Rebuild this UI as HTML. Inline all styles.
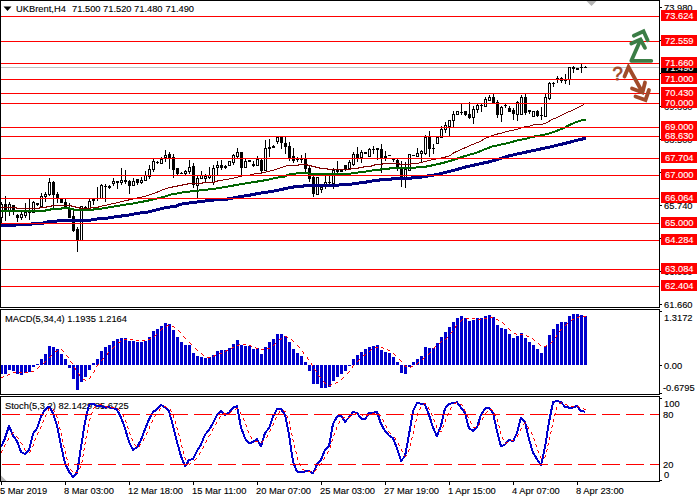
<!DOCTYPE html>
<html><head><meta charset="utf-8"><title>UKBrent,H4</title>
<style>html,body{margin:0;padding:0;background:#fff;overflow:hidden}svg{display:block}</style>
</head><body>
<svg width="700" height="500" viewBox="0 0 700 500">
<rect x="0" y="0" width="700" height="500" fill="#fff"/>
<rect x="1" y="67" width="658" height="1" fill="#c0c0c0"/>
<g shape-rendering="crispEdges">
<rect x="1" y="202" width="1" height="21" fill="#000"/>
<rect x="0" y="204" width="3" height="14" fill="#000"/>
<rect x="1" y="205" width="1" height="12" fill="#fff"/>
<rect x="5" y="196" width="1" height="25" fill="#000"/>
<rect x="4" y="204" width="3" height="7" fill="#000"/>
<rect x="9" y="202" width="1" height="14" fill="#000"/>
<rect x="8" y="204" width="3" height="7" fill="#000"/>
<rect x="9" y="205" width="1" height="5" fill="#fff"/>
<rect x="13" y="205" width="1" height="10" fill="#000"/>
<rect x="12" y="205" width="3" height="5" fill="#000"/>
<rect x="17" y="214" width="1" height="8" fill="#000"/>
<rect x="16" y="215" width="3" height="3" fill="#000"/>
<rect x="21" y="212" width="1" height="8" fill="#000"/>
<rect x="20" y="214" width="3" height="4" fill="#000"/>
<rect x="21" y="215" width="1" height="2" fill="#fff"/>
<rect x="25" y="203" width="1" height="15" fill="#000"/>
<rect x="24" y="212" width="3" height="4" fill="#000"/>
<rect x="25" y="213" width="1" height="2" fill="#fff"/>
<rect x="29" y="199" width="1" height="21" fill="#000"/>
<rect x="28" y="211" width="3" height="2" fill="#000"/>
<rect x="33" y="201" width="1" height="12" fill="#000"/>
<rect x="32" y="202" width="3" height="11" fill="#000"/>
<rect x="33" y="203" width="1" height="9" fill="#fff"/>
<rect x="37" y="203" width="1" height="3" fill="#000"/>
<rect x="36" y="203" width="3" height="2" fill="#000"/>
<rect x="41" y="193" width="1" height="15" fill="#000"/>
<rect x="40" y="196" width="3" height="11" fill="#000"/>
<rect x="41" y="197" width="1" height="9" fill="#fff"/>
<rect x="45" y="192" width="1" height="10" fill="#000"/>
<rect x="44" y="194" width="3" height="3" fill="#000"/>
<rect x="45" y="195" width="1" height="1" fill="#fff"/>
<rect x="49" y="178" width="1" height="18" fill="#000"/>
<rect x="48" y="182" width="3" height="13" fill="#000"/>
<rect x="49" y="183" width="1" height="11" fill="#fff"/>
<rect x="53" y="181" width="1" height="28" fill="#000"/>
<rect x="52" y="182" width="3" height="13" fill="#000"/>
<rect x="57" y="192" width="1" height="11" fill="#000"/>
<rect x="56" y="194" width="3" height="5" fill="#000"/>
<rect x="61" y="199" width="1" height="4" fill="#000"/>
<rect x="60" y="199" width="3" height="4" fill="#000"/>
<rect x="65" y="199" width="1" height="8" fill="#000"/>
<rect x="64" y="202" width="3" height="5" fill="#000"/>
<rect x="69" y="203" width="1" height="15" fill="#000"/>
<rect x="68" y="209" width="3" height="9" fill="#000"/>
<rect x="73" y="211" width="1" height="21" fill="#000"/>
<rect x="72" y="216" width="3" height="15" fill="#000"/>
<rect x="77" y="227" width="1" height="25" fill="#000"/>
<rect x="76" y="229" width="3" height="12" fill="#000"/>
<rect x="81" y="206" width="1" height="35" fill="#000"/>
<rect x="80" y="206" width="3" height="35" fill="#000"/>
<rect x="81" y="207" width="1" height="33" fill="#fff"/>
<rect x="85" y="206" width="1" height="3" fill="#000"/>
<rect x="84" y="207" width="3" height="2" fill="#000"/>
<rect x="89" y="199" width="1" height="10" fill="#000"/>
<rect x="88" y="201" width="3" height="8" fill="#000"/>
<rect x="89" y="202" width="1" height="6" fill="#fff"/>
<rect x="93" y="199" width="1" height="6" fill="#000"/>
<rect x="92" y="199" width="3" height="2" fill="#000"/>
<rect x="97" y="187" width="1" height="14" fill="#000"/>
<rect x="96" y="198" width="3" height="1" fill="#000"/>
<rect x="101" y="184" width="1" height="15" fill="#000"/>
<rect x="100" y="185" width="3" height="14" fill="#000"/>
<rect x="101" y="186" width="1" height="12" fill="#fff"/>
<rect x="105" y="184" width="1" height="18" fill="#000"/>
<rect x="104" y="186" width="3" height="1" fill="#000"/>
<rect x="109" y="185" width="1" height="4" fill="#000"/>
<rect x="108" y="186" width="3" height="2" fill="#000"/>
<rect x="113" y="178" width="1" height="8" fill="#000"/>
<rect x="112" y="181" width="3" height="3" fill="#000"/>
<rect x="113" y="182" width="1" height="1" fill="#fff"/>
<rect x="117" y="181" width="1" height="8" fill="#000"/>
<rect x="116" y="181" width="3" height="2" fill="#000"/>
<rect x="121" y="168" width="1" height="17" fill="#000"/>
<rect x="120" y="180" width="3" height="3" fill="#000"/>
<rect x="121" y="181" width="1" height="1" fill="#fff"/>
<rect x="125" y="170" width="1" height="14" fill="#000"/>
<rect x="124" y="180" width="3" height="2" fill="#000"/>
<rect x="129" y="180" width="1" height="14" fill="#000"/>
<rect x="128" y="181" width="3" height="5" fill="#000"/>
<rect x="133" y="178" width="1" height="8" fill="#000"/>
<rect x="132" y="181" width="3" height="5" fill="#000"/>
<rect x="133" y="182" width="1" height="3" fill="#fff"/>
<rect x="137" y="179" width="1" height="6" fill="#000"/>
<rect x="136" y="179" width="3" height="4" fill="#000"/>
<rect x="141" y="177" width="1" height="7" fill="#000"/>
<rect x="140" y="180" width="3" height="3" fill="#000"/>
<rect x="141" y="181" width="1" height="1" fill="#fff"/>
<rect x="145" y="171" width="1" height="10" fill="#000"/>
<rect x="144" y="175" width="3" height="6" fill="#000"/>
<rect x="145" y="176" width="1" height="4" fill="#fff"/>
<rect x="149" y="165" width="1" height="14" fill="#000"/>
<rect x="148" y="169" width="3" height="8" fill="#000"/>
<rect x="149" y="170" width="1" height="6" fill="#fff"/>
<rect x="153" y="159" width="1" height="13" fill="#000"/>
<rect x="152" y="161" width="3" height="9" fill="#000"/>
<rect x="153" y="162" width="1" height="7" fill="#fff"/>
<rect x="157" y="161" width="1" height="3" fill="#000"/>
<rect x="156" y="162" width="3" height="1" fill="#000"/>
<rect x="161" y="157" width="1" height="7" fill="#000"/>
<rect x="160" y="159" width="3" height="5" fill="#000"/>
<rect x="161" y="160" width="1" height="3" fill="#fff"/>
<rect x="165" y="150" width="1" height="12" fill="#000"/>
<rect x="164" y="155" width="3" height="3" fill="#000"/>
<rect x="165" y="156" width="1" height="1" fill="#fff"/>
<rect x="169" y="152" width="1" height="17" fill="#000"/>
<rect x="168" y="154" width="3" height="4" fill="#000"/>
<rect x="173" y="154" width="1" height="24" fill="#000"/>
<rect x="172" y="157" width="3" height="13" fill="#000"/>
<rect x="177" y="168" width="1" height="7" fill="#000"/>
<rect x="176" y="168" width="3" height="6" fill="#000"/>
<rect x="181" y="172" width="1" height="2" fill="#000"/>
<rect x="180" y="173" width="3" height="1" fill="#000"/>
<rect x="185" y="170" width="1" height="5" fill="#000"/>
<rect x="184" y="171" width="3" height="3" fill="#000"/>
<rect x="185" y="172" width="1" height="1" fill="#fff"/>
<rect x="189" y="160" width="1" height="14" fill="#000"/>
<rect x="188" y="167" width="3" height="5" fill="#000"/>
<rect x="189" y="168" width="1" height="3" fill="#fff"/>
<rect x="193" y="163" width="1" height="25" fill="#000"/>
<rect x="192" y="166" width="3" height="19" fill="#000"/>
<rect x="197" y="175" width="1" height="23" fill="#000"/>
<rect x="196" y="178" width="3" height="8" fill="#000"/>
<rect x="197" y="179" width="1" height="6" fill="#fff"/>
<rect x="201" y="171" width="1" height="8" fill="#000"/>
<rect x="200" y="175" width="3" height="4" fill="#000"/>
<rect x="201" y="176" width="1" height="2" fill="#fff"/>
<rect x="205" y="174" width="1" height="9" fill="#000"/>
<rect x="204" y="176" width="3" height="3" fill="#000"/>
<rect x="205" y="177" width="1" height="1" fill="#fff"/>
<rect x="209" y="167" width="1" height="12" fill="#000"/>
<rect x="208" y="175" width="3" height="3" fill="#000"/>
<rect x="209" y="176" width="1" height="1" fill="#fff"/>
<rect x="213" y="165" width="1" height="20" fill="#000"/>
<rect x="212" y="168" width="3" height="15" fill="#000"/>
<rect x="213" y="169" width="1" height="13" fill="#fff"/>
<rect x="217" y="161" width="1" height="15" fill="#000"/>
<rect x="216" y="165" width="3" height="3" fill="#000"/>
<rect x="217" y="166" width="1" height="1" fill="#fff"/>
<rect x="221" y="160" width="1" height="10" fill="#000"/>
<rect x="220" y="165" width="3" height="3" fill="#000"/>
<rect x="225" y="165" width="1" height="4" fill="#000"/>
<rect x="224" y="166" width="3" height="2" fill="#000"/>
<rect x="229" y="161" width="1" height="5" fill="#000"/>
<rect x="228" y="161" width="3" height="5" fill="#000"/>
<rect x="229" y="162" width="1" height="3" fill="#fff"/>
<rect x="233" y="154" width="1" height="11" fill="#000"/>
<rect x="232" y="155" width="3" height="8" fill="#000"/>
<rect x="233" y="156" width="1" height="6" fill="#fff"/>
<rect x="237" y="148" width="1" height="10" fill="#000"/>
<rect x="236" y="152" width="3" height="5" fill="#000"/>
<rect x="237" y="153" width="1" height="3" fill="#fff"/>
<rect x="241" y="152" width="1" height="24" fill="#000"/>
<rect x="240" y="152" width="3" height="16" fill="#000"/>
<rect x="245" y="159" width="1" height="9" fill="#000"/>
<rect x="244" y="161" width="3" height="7" fill="#000"/>
<rect x="245" y="162" width="1" height="5" fill="#fff"/>
<rect x="249" y="160" width="1" height="2" fill="#000"/>
<rect x="248" y="160" width="3" height="2" fill="#000"/>
<rect x="253" y="161" width="1" height="6" fill="#000"/>
<rect x="252" y="164" width="3" height="2" fill="#000"/>
<rect x="257" y="156" width="1" height="10" fill="#000"/>
<rect x="256" y="159" width="3" height="7" fill="#000"/>
<rect x="257" y="160" width="1" height="5" fill="#fff"/>
<rect x="261" y="159" width="1" height="15" fill="#000"/>
<rect x="260" y="160" width="3" height="11" fill="#000"/>
<rect x="265" y="140" width="1" height="31" fill="#000"/>
<rect x="264" y="148" width="3" height="23" fill="#000"/>
<rect x="265" y="149" width="1" height="21" fill="#fff"/>
<rect x="269" y="139" width="1" height="18" fill="#000"/>
<rect x="268" y="147" width="3" height="2" fill="#000"/>
<rect x="273" y="145" width="1" height="3" fill="#000"/>
<rect x="272" y="146" width="3" height="2" fill="#000"/>
<rect x="277" y="137" width="1" height="7" fill="#000"/>
<rect x="276" y="137" width="3" height="5" fill="#000"/>
<rect x="277" y="138" width="1" height="3" fill="#fff"/>
<rect x="281" y="137" width="1" height="12" fill="#000"/>
<rect x="280" y="137" width="3" height="6" fill="#000"/>
<rect x="285" y="137" width="1" height="17" fill="#000"/>
<rect x="284" y="143" width="3" height="4" fill="#000"/>
<rect x="289" y="142" width="1" height="19" fill="#000"/>
<rect x="288" y="146" width="3" height="12" fill="#000"/>
<rect x="293" y="148" width="1" height="15" fill="#000"/>
<rect x="292" y="156" width="3" height="5" fill="#000"/>
<rect x="297" y="157" width="1" height="5" fill="#000"/>
<rect x="296" y="159" width="3" height="1" fill="#000"/>
<rect x="301" y="155" width="1" height="8" fill="#000"/>
<rect x="300" y="158" width="3" height="2" fill="#000"/>
<rect x="305" y="153" width="1" height="20" fill="#000"/>
<rect x="304" y="159" width="3" height="10" fill="#000"/>
<rect x="309" y="166" width="1" height="16" fill="#000"/>
<rect x="308" y="168" width="3" height="11" fill="#000"/>
<rect x="313" y="176" width="1" height="21" fill="#000"/>
<rect x="312" y="177" width="3" height="17" fill="#000"/>
<rect x="317" y="177" width="1" height="18" fill="#000"/>
<rect x="316" y="177" width="3" height="18" fill="#000"/>
<rect x="317" y="178" width="1" height="16" fill="#fff"/>
<rect x="321" y="186" width="1" height="7" fill="#000"/>
<rect x="320" y="187" width="3" height="3" fill="#000"/>
<rect x="321" y="188" width="1" height="1" fill="#fff"/>
<rect x="325" y="176" width="1" height="13" fill="#000"/>
<rect x="324" y="182" width="3" height="3" fill="#000"/>
<rect x="325" y="183" width="1" height="1" fill="#fff"/>
<rect x="329" y="176" width="1" height="8" fill="#000"/>
<rect x="328" y="182" width="3" height="1" fill="#000"/>
<rect x="333" y="168" width="1" height="21" fill="#000"/>
<rect x="332" y="170" width="3" height="14" fill="#000"/>
<rect x="333" y="171" width="1" height="12" fill="#fff"/>
<rect x="337" y="161" width="1" height="13" fill="#000"/>
<rect x="336" y="170" width="3" height="2" fill="#000"/>
<rect x="341" y="170" width="1" height="2" fill="#000"/>
<rect x="340" y="170" width="3" height="2" fill="#000"/>
<rect x="345" y="165" width="1" height="6" fill="#000"/>
<rect x="344" y="165" width="3" height="5" fill="#000"/>
<rect x="349" y="160" width="1" height="10" fill="#000"/>
<rect x="348" y="162" width="3" height="7" fill="#000"/>
<rect x="349" y="163" width="1" height="5" fill="#fff"/>
<rect x="353" y="152" width="1" height="14" fill="#000"/>
<rect x="352" y="154" width="3" height="11" fill="#000"/>
<rect x="353" y="155" width="1" height="9" fill="#fff"/>
<rect x="357" y="147" width="1" height="15" fill="#000"/>
<rect x="356" y="154" width="3" height="4" fill="#000"/>
<rect x="361" y="150" width="1" height="13" fill="#000"/>
<rect x="360" y="152" width="3" height="6" fill="#000"/>
<rect x="361" y="153" width="1" height="4" fill="#fff"/>
<rect x="365" y="152" width="1" height="2" fill="#000"/>
<rect x="364" y="152" width="3" height="2" fill="#000"/>
<rect x="369" y="148" width="1" height="9" fill="#000"/>
<rect x="368" y="149" width="3" height="8" fill="#000"/>
<rect x="369" y="150" width="1" height="6" fill="#fff"/>
<rect x="373" y="146" width="1" height="8" fill="#000"/>
<rect x="372" y="149" width="3" height="1" fill="#000"/>
<rect x="377" y="148" width="1" height="12" fill="#000"/>
<rect x="376" y="148" width="3" height="2" fill="#000"/>
<rect x="381" y="144" width="1" height="29" fill="#000"/>
<rect x="380" y="149" width="3" height="9" fill="#000"/>
<rect x="385" y="151" width="1" height="10" fill="#000"/>
<rect x="384" y="156" width="3" height="3" fill="#000"/>
<rect x="389" y="155" width="1" height="1" fill="#000"/>
<rect x="388" y="155" width="3" height="1" fill="#000"/>
<rect x="393" y="158" width="1" height="4" fill="#000"/>
<rect x="392" y="158" width="3" height="2" fill="#000"/>
<rect x="397" y="159" width="1" height="12" fill="#000"/>
<rect x="396" y="160" width="3" height="7" fill="#000"/>
<rect x="401" y="161" width="1" height="26" fill="#000"/>
<rect x="400" y="167" width="3" height="11" fill="#000"/>
<rect x="405" y="162" width="1" height="26" fill="#000"/>
<rect x="404" y="169" width="3" height="9" fill="#000"/>
<rect x="405" y="170" width="1" height="7" fill="#fff"/>
<rect x="409" y="154" width="1" height="17" fill="#000"/>
<rect x="408" y="154" width="3" height="17" fill="#000"/>
<rect x="409" y="155" width="1" height="15" fill="#fff"/>
<rect x="413" y="155" width="1" height="1" fill="#000"/>
<rect x="412" y="155" width="3" height="1" fill="#000"/>
<rect x="417" y="148" width="1" height="9" fill="#000"/>
<rect x="416" y="153" width="3" height="4" fill="#000"/>
<rect x="417" y="154" width="1" height="2" fill="#fff"/>
<rect x="421" y="150" width="1" height="12" fill="#000"/>
<rect x="420" y="151" width="3" height="3" fill="#000"/>
<rect x="421" y="152" width="1" height="1" fill="#fff"/>
<rect x="425" y="135" width="1" height="20" fill="#000"/>
<rect x="424" y="137" width="3" height="17" fill="#000"/>
<rect x="425" y="138" width="1" height="15" fill="#fff"/>
<rect x="429" y="131" width="1" height="26" fill="#000"/>
<rect x="428" y="137" width="3" height="12" fill="#000"/>
<rect x="433" y="144" width="1" height="10" fill="#000"/>
<rect x="432" y="148" width="3" height="1" fill="#000"/>
<rect x="437" y="137" width="1" height="7" fill="#000"/>
<rect x="436" y="137" width="3" height="7" fill="#000"/>
<rect x="437" y="138" width="1" height="5" fill="#fff"/>
<rect x="441" y="126" width="1" height="12" fill="#000"/>
<rect x="440" y="129" width="3" height="9" fill="#000"/>
<rect x="441" y="130" width="1" height="7" fill="#fff"/>
<rect x="445" y="122" width="1" height="11" fill="#000"/>
<rect x="444" y="125" width="3" height="5" fill="#000"/>
<rect x="445" y="126" width="1" height="3" fill="#fff"/>
<rect x="449" y="120" width="1" height="17" fill="#000"/>
<rect x="448" y="120" width="3" height="7" fill="#000"/>
<rect x="449" y="121" width="1" height="5" fill="#fff"/>
<rect x="453" y="111" width="1" height="17" fill="#000"/>
<rect x="452" y="114" width="3" height="7" fill="#000"/>
<rect x="453" y="115" width="1" height="5" fill="#fff"/>
<rect x="457" y="111" width="1" height="4" fill="#000"/>
<rect x="456" y="111" width="3" height="4" fill="#000"/>
<rect x="457" y="112" width="1" height="2" fill="#fff"/>
<rect x="461" y="104" width="1" height="11" fill="#000"/>
<rect x="460" y="112" width="3" height="1" fill="#000"/>
<rect x="465" y="111" width="1" height="5" fill="#000"/>
<rect x="464" y="111" width="3" height="4" fill="#000"/>
<rect x="469" y="102" width="1" height="17" fill="#000"/>
<rect x="468" y="114" width="3" height="4" fill="#000"/>
<rect x="473" y="106" width="1" height="18" fill="#000"/>
<rect x="472" y="109" width="3" height="9" fill="#000"/>
<rect x="473" y="110" width="1" height="7" fill="#fff"/>
<rect x="477" y="104" width="1" height="9" fill="#000"/>
<rect x="476" y="105" width="3" height="5" fill="#000"/>
<rect x="477" y="106" width="1" height="3" fill="#fff"/>
<rect x="481" y="104" width="1" height="8" fill="#000"/>
<rect x="480" y="105" width="3" height="1" fill="#000"/>
<rect x="485" y="97" width="1" height="10" fill="#000"/>
<rect x="484" y="99" width="3" height="8" fill="#000"/>
<rect x="485" y="100" width="1" height="6" fill="#fff"/>
<rect x="489" y="95" width="1" height="6" fill="#000"/>
<rect x="488" y="97" width="3" height="4" fill="#000"/>
<rect x="489" y="98" width="1" height="2" fill="#fff"/>
<rect x="493" y="94" width="1" height="10" fill="#000"/>
<rect x="492" y="97" width="3" height="7" fill="#000"/>
<rect x="497" y="100" width="1" height="18" fill="#000"/>
<rect x="496" y="102" width="3" height="13" fill="#000"/>
<rect x="501" y="106" width="1" height="16" fill="#000"/>
<rect x="500" y="107" width="3" height="8" fill="#000"/>
<rect x="501" y="108" width="1" height="6" fill="#fff"/>
<rect x="505" y="104" width="1" height="4" fill="#000"/>
<rect x="504" y="105" width="3" height="1" fill="#000"/>
<rect x="509" y="106" width="1" height="6" fill="#000"/>
<rect x="508" y="108" width="3" height="4" fill="#000"/>
<rect x="513" y="108" width="1" height="12" fill="#000"/>
<rect x="512" y="110" width="3" height="4" fill="#000"/>
<rect x="517" y="101" width="1" height="20" fill="#000"/>
<rect x="516" y="102" width="3" height="13" fill="#000"/>
<rect x="517" y="103" width="1" height="11" fill="#fff"/>
<rect x="521" y="95" width="1" height="20" fill="#000"/>
<rect x="520" y="97" width="3" height="18" fill="#000"/>
<rect x="521" y="98" width="1" height="16" fill="#fff"/>
<rect x="525" y="94" width="1" height="21" fill="#000"/>
<rect x="524" y="97" width="3" height="16" fill="#000"/>
<rect x="529" y="110" width="1" height="4" fill="#000"/>
<rect x="528" y="110" width="3" height="2" fill="#000"/>
<rect x="533" y="111" width="1" height="6" fill="#000"/>
<rect x="532" y="111" width="3" height="6" fill="#000"/>
<rect x="533" y="112" width="1" height="4" fill="#fff"/>
<rect x="537" y="110" width="1" height="7" fill="#000"/>
<rect x="536" y="111" width="3" height="5" fill="#000"/>
<rect x="541" y="107" width="1" height="13" fill="#000"/>
<rect x="540" y="115" width="3" height="1" fill="#000"/>
<rect x="545" y="94" width="1" height="23" fill="#000"/>
<rect x="544" y="97" width="3" height="20" fill="#000"/>
<rect x="545" y="98" width="1" height="18" fill="#fff"/>
<rect x="549" y="82" width="1" height="18" fill="#000"/>
<rect x="548" y="83" width="3" height="16" fill="#000"/>
<rect x="549" y="84" width="1" height="14" fill="#fff"/>
<rect x="553" y="82" width="1" height="5" fill="#000"/>
<rect x="552" y="83" width="3" height="1" fill="#000"/>
<rect x="557" y="76" width="1" height="7" fill="#000"/>
<rect x="556" y="78" width="3" height="2" fill="#000"/>
<rect x="561" y="77" width="1" height="6" fill="#000"/>
<rect x="560" y="78" width="3" height="3" fill="#000"/>
<rect x="565" y="74" width="1" height="10" fill="#000"/>
<rect x="564" y="79" width="3" height="2" fill="#000"/>
<rect x="569" y="67" width="1" height="18" fill="#000"/>
<rect x="568" y="67" width="3" height="13" fill="#000"/>
<rect x="569" y="68" width="1" height="11" fill="#fff"/>
<rect x="573" y="66" width="1" height="7" fill="#000"/>
<rect x="572" y="67" width="3" height="2" fill="#000"/>
<rect x="577" y="68" width="1" height="2" fill="#000"/>
<rect x="576" y="68" width="3" height="2" fill="#000"/>
<rect x="581" y="64" width="1" height="9" fill="#000"/>
<rect x="580" y="67" width="3" height="1" fill="#000"/>
<rect x="585" y="66" width="1" height="2" fill="#000"/>
<rect x="584" y="67" width="3" height="1" fill="#000"/>
</g>
<g shape-rendering="crispEdges">
<polyline points="0.0,225.5 15.0,225.5 16.0,224.5 31.0,224.5 32.0,223.5 43.0,223.5 44.0,222.5 47.0,222.5 48.0,221.5 54.0,221.4 60.0,220.5 71.0,220.3 90.0,220.3 95.0,219.2 100.0,218.6 107.0,218.2 111.0,217.4 119.0,216.3 127.0,215.4 131.0,214.5 138.0,213.3 147.0,212.2 151.0,211.2 155.0,210.2 159.0,209.3 163.0,208.3 167.0,207.3 176.0,206.3 179.0,204.5 187.0,203.3 195.0,202.3 203.0,201.3 211.0,200.3 218.0,199.5 226.0,199.3 233.0,198.0 240.0,196.6 247.0,195.6 253.0,194.6 258.0,193.4 265.0,192.5 271.0,191.5 277.0,190.5 281.0,189.6 285.0,188.6 290.0,187.5 295.0,186.8 303.0,186.3 304.0,185.5 311.0,185.5 338.0,185.5 340.0,184.6 351.0,184.2 355.0,183.5 363.0,182.5 370.0,181.5 374.0,180.5 379.0,180.4 380.0,179.5 391.0,179.4 392.0,178.5 411.0,178.4 412.0,177.6 420.0,177.3 424.0,176.5 431.0,175.5 437.0,174.5 441.0,173.5 445.0,172.5 449.0,171.5 453.0,170.5 466.0,166.9 477.0,164.4 489.0,161.9 500.0,158.7 509.0,155.8 522.0,153.0 536.0,150.0 549.0,147.2 563.0,143.9 570.0,142.2 576.0,140.5 586.0,138.2" fill="none" stroke="#000080" stroke-width="3" stroke-linejoin="round"/>
<polyline points="0.0,211.0 45.0,211.0 46.0,210.0 50.0,210.0 51.0,209.0 61.0,209.0 62.0,208.0 69.0,208.0 70.0,209.0 73.0,209.0 74.0,210.0 93.0,210.0 94.0,209.0 100.0,208.8 111.0,207.0 123.0,205.0 134.0,203.3 140.0,202.2 146.0,201.0 150.0,200.2 154.0,199.3 158.0,198.3 162.0,197.3 166.0,196.2 169.0,195.2 172.0,194.3 177.0,193.5 180.0,192.8 186.0,192.0 194.0,191.0 204.0,190.0 213.0,189.0 218.0,188.1 225.0,187.0 231.0,186.0 236.0,185.0 242.0,184.0 248.0,183.0 256.0,181.8 260.0,181.0 267.0,180.0 271.0,179.0 275.0,178.0 281.0,177.0 285.0,176.6 287.0,175.2 290.0,174.2 298.0,173.2 312.0,173.6 317.0,174.0 349.0,174.0 352.0,173.2 360.0,172.2 368.0,171.2 374.0,170.2 380.0,170.0 381.0,169.0 389.0,169.0 390.0,168.0 414.0,168.0 417.0,167.2 425.0,166.8 429.0,166.0 434.0,165.0 438.5,164.0 442.5,163.0 446.5,162.0 450.0,161.0 453.0,160.0 466.0,155.7 477.0,152.6 483.0,150.0 487.0,148.5 492.0,146.6 501.0,144.6 510.0,142.5 518.0,140.2 527.0,138.5 532.0,137.0 537.0,136.0 543.0,135.0 547.0,134.0 551.0,133.0 555.0,131.5 558.0,130.3 563.0,128.6 567.0,126.2 570.0,124.8 575.0,122.5 581.0,120.4 586.0,119.6" fill="none" stroke="#006400" stroke-width="2" stroke-linejoin="round"/>
<polyline points="0.0,207.5 16.0,207.5 17.0,208.5 39.0,208.5 40.0,207.5 46.0,207.5 47.0,206.5 51.0,206.5 52.0,205.5 71.0,205.5 72.0,206.5 75.0,206.5 76.0,207.5 79.0,207.5 80.0,208.5 90.0,208.5 91.0,207.5 98.0,207.5 99.0,206.5 100.0,206.4 111.0,204.1 123.0,201.3 134.0,198.7 146.0,196.1 157.0,192.2 163.0,189.5 170.0,187.5 175.0,186.5 180.0,185.5 182.0,185.5 183.0,184.5 187.0,184.5 188.0,183.5 202.0,183.5 203.0,182.5 214.0,182.3 215.0,181.5 220.0,180.5 226.0,179.5 231.0,178.6 236.0,177.6 240.0,176.6 244.0,175.6 250.0,175.2 252.0,174.5 255.0,173.7 261.0,173.2 264.0,172.4 269.0,171.3 273.0,170.3 276.0,169.4 279.0,168.4 282.0,167.4 285.5,166.4 287.0,165.5 298.0,165.5 299.0,164.5 307.0,164.5 308.0,165.5 311.0,165.5 312.0,166.5 315.0,166.5 316.0,167.5 319.0,167.5 320.0,168.5 327.0,168.5 328.0,169.5 340.0,169.5 350.0,169.5 351.0,168.5 358.0,168.5 359.0,167.5 363.0,167.3 364.0,166.5 371.0,166.3 372.0,165.5 374.0,165.3 375.0,164.5 382.0,164.5 383.0,163.5 399.0,163.5 400.0,164.5 410.0,164.5 411.0,163.6 418.0,163.4 420.5,162.5 425.0,161.5 429.0,160.5 433.0,159.5 438.0,158.5 443.5,157.5 447.5,156.5 450.5,155.5 453.0,153.2 460.0,150.0 466.0,147.3 470.0,145.5 479.0,141.9 487.0,137.6 496.0,134.3 501.0,133.3 505.0,132.0 511.0,130.6 516.0,129.5 520.0,128.5 524.0,127.0 530.0,126.0 534.0,124.7 542.0,124.3 546.0,123.0 552.0,119.5 560.0,116.2 566.0,113.0 574.0,109.6 581.0,106.1 585.0,103.6" fill="none" stroke="#800000" stroke-width="1" stroke-linejoin="round"/>
</g>
<rect x="1" y="16" width="658" height="1" fill="#ff0000"/>
<rect x="1" y="41" width="658" height="1" fill="#ff0000"/>
<rect x="1" y="63" width="658" height="1" fill="#ff0000"/>
<rect x="1" y="79" width="658" height="1" fill="#ff0000"/>
<rect x="1" y="93" width="658" height="1" fill="#ff0000"/>
<rect x="1" y="103" width="658" height="1" fill="#ff0000"/>
<rect x="1" y="127" width="658" height="1" fill="#ff0000"/>
<rect x="1" y="136" width="658" height="1" fill="#ff0000"/>
<rect x="1" y="158" width="658" height="1" fill="#ff0000"/>
<rect x="1" y="175" width="658" height="1" fill="#ff0000"/>
<rect x="1" y="198" width="658" height="1" fill="#ff0000"/>
<rect x="1" y="223" width="658" height="1" fill="#ff0000"/>
<rect x="1" y="240" width="658" height="1" fill="#ff0000"/>
<rect x="1" y="269" width="658" height="1" fill="#ff0000"/>
<rect x="1" y="286" width="658" height="1" fill="#ff0000"/>
<text transform="translate(5,322) scale(0.9639175257731961,1)" font-family="Liberation Sans, sans-serif" font-size="9.7" fill="#000" stroke="#000" stroke-width="0.12">MACD(5,34,4) 1.1935 1.2164</text>
<text transform="translate(5,409) scale(0.9639175257731961,1)" font-family="Liberation Sans, sans-serif" font-size="9.7" fill="#000" stroke="#000" stroke-width="0.12">Stoch(5,3,2) 82.1429 85.6725</text>
<rect x="0" y="365" width="3" height="9" fill="#0000cd"/>
<rect x="4" y="365" width="3" height="9" fill="#0000cd"/>
<rect x="8" y="365" width="3" height="5" fill="#0000cd"/>
<rect x="12" y="365" width="3" height="6" fill="#0000cd"/>
<rect x="16" y="365" width="3" height="9" fill="#0000cd"/>
<rect x="20" y="365" width="3" height="10" fill="#0000cd"/>
<rect x="24" y="365" width="3" height="8" fill="#0000cd"/>
<rect x="28" y="365" width="3" height="7" fill="#0000cd"/>
<rect x="32" y="365" width="3" height="2" fill="#0000cd"/>
<rect x="36" y="364" width="3" height="1" fill="#0000cd"/>
<rect x="40" y="359" width="3" height="6" fill="#0000cd"/>
<rect x="44" y="354" width="3" height="11" fill="#0000cd"/>
<rect x="48" y="346" width="3" height="19" fill="#0000cd"/>
<rect x="52" y="347" width="3" height="18" fill="#0000cd"/>
<rect x="56" y="349" width="3" height="16" fill="#0000cd"/>
<rect x="60" y="354" width="3" height="11" fill="#0000cd"/>
<rect x="64" y="359" width="3" height="6" fill="#0000cd"/>
<rect x="68" y="365" width="3" height="3" fill="#0000cd"/>
<rect x="72" y="365" width="3" height="14" fill="#0000cd"/>
<rect x="76" y="365" width="3" height="25" fill="#0000cd"/>
<rect x="80" y="365" width="3" height="17" fill="#0000cd"/>
<rect x="84" y="365" width="3" height="12" fill="#0000cd"/>
<rect x="88" y="365" width="3" height="5" fill="#0000cd"/>
<rect x="92" y="363" width="3" height="2" fill="#0000cd"/>
<rect x="96" y="359" width="3" height="6" fill="#0000cd"/>
<rect x="100" y="351" width="3" height="14" fill="#0000cd"/>
<rect x="104" y="347" width="3" height="18" fill="#0000cd"/>
<rect x="108" y="345" width="3" height="20" fill="#0000cd"/>
<rect x="112" y="341" width="3" height="24" fill="#0000cd"/>
<rect x="116" y="339" width="3" height="26" fill="#0000cd"/>
<rect x="120" y="338" width="3" height="27" fill="#0000cd"/>
<rect x="124" y="338" width="3" height="27" fill="#0000cd"/>
<rect x="128" y="341" width="3" height="24" fill="#0000cd"/>
<rect x="132" y="341" width="3" height="24" fill="#0000cd"/>
<rect x="136" y="342" width="3" height="23" fill="#0000cd"/>
<rect x="140" y="342" width="3" height="23" fill="#0000cd"/>
<rect x="144" y="341" width="3" height="24" fill="#0000cd"/>
<rect x="148" y="337" width="3" height="28" fill="#0000cd"/>
<rect x="152" y="331" width="3" height="34" fill="#0000cd"/>
<rect x="156" y="329" width="3" height="36" fill="#0000cd"/>
<rect x="160" y="326" width="3" height="39" fill="#0000cd"/>
<rect x="164" y="323" width="3" height="42" fill="#0000cd"/>
<rect x="168" y="324" width="3" height="41" fill="#0000cd"/>
<rect x="172" y="330" width="3" height="35" fill="#0000cd"/>
<rect x="176" y="337" width="3" height="28" fill="#0000cd"/>
<rect x="180" y="342" width="3" height="23" fill="#0000cd"/>
<rect x="184" y="345" width="3" height="20" fill="#0000cd"/>
<rect x="188" y="345" width="3" height="20" fill="#0000cd"/>
<rect x="192" y="353" width="3" height="12" fill="#0000cd"/>
<rect x="196" y="356" width="3" height="9" fill="#0000cd"/>
<rect x="200" y="357" width="3" height="8" fill="#0000cd"/>
<rect x="204" y="358" width="3" height="7" fill="#0000cd"/>
<rect x="208" y="357" width="3" height="8" fill="#0000cd"/>
<rect x="212" y="355" width="3" height="10" fill="#0000cd"/>
<rect x="216" y="351" width="3" height="14" fill="#0000cd"/>
<rect x="220" y="350" width="3" height="15" fill="#0000cd"/>
<rect x="224" y="350" width="3" height="15" fill="#0000cd"/>
<rect x="228" y="348" width="3" height="17" fill="#0000cd"/>
<rect x="232" y="344" width="3" height="21" fill="#0000cd"/>
<rect x="236" y="340" width="3" height="25" fill="#0000cd"/>
<rect x="240" y="345" width="3" height="20" fill="#0000cd"/>
<rect x="244" y="346" width="3" height="19" fill="#0000cd"/>
<rect x="248" y="346" width="3" height="19" fill="#0000cd"/>
<rect x="252" y="349" width="3" height="16" fill="#0000cd"/>
<rect x="256" y="348" width="3" height="17" fill="#0000cd"/>
<rect x="260" y="354" width="3" height="11" fill="#0000cd"/>
<rect x="264" y="347" width="3" height="18" fill="#0000cd"/>
<rect x="268" y="342" width="3" height="23" fill="#0000cd"/>
<rect x="272" y="339" width="3" height="26" fill="#0000cd"/>
<rect x="276" y="334" width="3" height="31" fill="#0000cd"/>
<rect x="280" y="334" width="3" height="31" fill="#0000cd"/>
<rect x="284" y="336" width="3" height="29" fill="#0000cd"/>
<rect x="288" y="342" width="3" height="23" fill="#0000cd"/>
<rect x="292" y="349" width="3" height="16" fill="#0000cd"/>
<rect x="296" y="353" width="3" height="12" fill="#0000cd"/>
<rect x="300" y="356" width="3" height="9" fill="#0000cd"/>
<rect x="304" y="362" width="3" height="3" fill="#0000cd"/>
<rect x="308" y="365" width="3" height="6" fill="#0000cd"/>
<rect x="312" y="365" width="3" height="19" fill="#0000cd"/>
<rect x="316" y="365" width="3" height="19" fill="#0000cd"/>
<rect x="320" y="365" width="3" height="23" fill="#0000cd"/>
<rect x="324" y="365" width="3" height="23" fill="#0000cd"/>
<rect x="328" y="365" width="3" height="22" fill="#0000cd"/>
<rect x="332" y="365" width="3" height="16" fill="#0000cd"/>
<rect x="336" y="365" width="3" height="12" fill="#0000cd"/>
<rect x="340" y="365" width="3" height="9" fill="#0000cd"/>
<rect x="344" y="365" width="3" height="6" fill="#0000cd"/>
<rect x="348" y="365" width="3" height="1" fill="#0000cd"/>
<rect x="352" y="359" width="3" height="6" fill="#0000cd"/>
<rect x="356" y="355" width="3" height="10" fill="#0000cd"/>
<rect x="360" y="352" width="3" height="13" fill="#0000cd"/>
<rect x="364" y="349" width="3" height="16" fill="#0000cd"/>
<rect x="368" y="347" width="3" height="18" fill="#0000cd"/>
<rect x="372" y="346" width="3" height="19" fill="#0000cd"/>
<rect x="376" y="345" width="3" height="20" fill="#0000cd"/>
<rect x="380" y="350" width="3" height="15" fill="#0000cd"/>
<rect x="384" y="352" width="3" height="13" fill="#0000cd"/>
<rect x="388" y="353" width="3" height="12" fill="#0000cd"/>
<rect x="392" y="357" width="3" height="8" fill="#0000cd"/>
<rect x="396" y="362" width="3" height="3" fill="#0000cd"/>
<rect x="400" y="365" width="3" height="8" fill="#0000cd"/>
<rect x="404" y="365" width="3" height="9" fill="#0000cd"/>
<rect x="408" y="365" width="3" height="2" fill="#0000cd"/>
<rect x="412" y="362" width="3" height="3" fill="#0000cd"/>
<rect x="416" y="359" width="3" height="6" fill="#0000cd"/>
<rect x="420" y="356" width="3" height="9" fill="#0000cd"/>
<rect x="424" y="347" width="3" height="18" fill="#0000cd"/>
<rect x="428" y="348" width="3" height="17" fill="#0000cd"/>
<rect x="432" y="348" width="3" height="17" fill="#0000cd"/>
<rect x="436" y="343" width="3" height="22" fill="#0000cd"/>
<rect x="440" y="337" width="3" height="28" fill="#0000cd"/>
<rect x="444" y="332" width="3" height="33" fill="#0000cd"/>
<rect x="448" y="327" width="3" height="38" fill="#0000cd"/>
<rect x="452" y="322" width="3" height="43" fill="#0000cd"/>
<rect x="456" y="318" width="3" height="47" fill="#0000cd"/>
<rect x="460" y="316" width="3" height="49" fill="#0000cd"/>
<rect x="464" y="318" width="3" height="47" fill="#0000cd"/>
<rect x="468" y="321" width="3" height="44" fill="#0000cd"/>
<rect x="472" y="320" width="3" height="45" fill="#0000cd"/>
<rect x="476" y="318" width="3" height="47" fill="#0000cd"/>
<rect x="480" y="318" width="3" height="47" fill="#0000cd"/>
<rect x="484" y="316" width="3" height="49" fill="#0000cd"/>
<rect x="488" y="315" width="3" height="50" fill="#0000cd"/>
<rect x="492" y="317" width="3" height="48" fill="#0000cd"/>
<rect x="496" y="325" width="3" height="40" fill="#0000cd"/>
<rect x="500" y="328" width="3" height="37" fill="#0000cd"/>
<rect x="504" y="329" width="3" height="36" fill="#0000cd"/>
<rect x="508" y="334" width="3" height="31" fill="#0000cd"/>
<rect x="512" y="338" width="3" height="27" fill="#0000cd"/>
<rect x="516" y="336" width="3" height="29" fill="#0000cd"/>
<rect x="520" y="333" width="3" height="32" fill="#0000cd"/>
<rect x="524" y="338" width="3" height="27" fill="#0000cd"/>
<rect x="528" y="342" width="3" height="23" fill="#0000cd"/>
<rect x="532" y="345" width="3" height="20" fill="#0000cd"/>
<rect x="536" y="349" width="3" height="16" fill="#0000cd"/>
<rect x="540" y="353" width="3" height="12" fill="#0000cd"/>
<rect x="544" y="346" width="3" height="19" fill="#0000cd"/>
<rect x="548" y="335" width="3" height="30" fill="#0000cd"/>
<rect x="552" y="329" width="3" height="36" fill="#0000cd"/>
<rect x="556" y="324" width="3" height="41" fill="#0000cd"/>
<rect x="560" y="322" width="3" height="43" fill="#0000cd"/>
<rect x="564" y="322" width="3" height="43" fill="#0000cd"/>
<rect x="568" y="316" width="3" height="49" fill="#0000cd"/>
<rect x="572" y="314" width="3" height="51" fill="#0000cd"/>
<rect x="576" y="314" width="3" height="51" fill="#0000cd"/>
<rect x="580" y="315" width="3" height="50" fill="#0000cd"/>
<rect x="584" y="316" width="3" height="49" fill="#0000cd"/>
<rect x="1" y="377" width="1" height="1" fill="#ff0000"/>
<rect x="2" y="377" width="1" height="1" fill="#ff0000"/>
<rect x="3" y="376" width="1" height="1" fill="#ff0000"/>
<rect x="7" y="375" width="1" height="1" fill="#ff0000"/>
<rect x="8" y="374" width="1" height="1" fill="#ff0000"/>
<rect x="9" y="374" width="1" height="1" fill="#ff0000"/>
<rect x="13" y="372" width="1" height="1" fill="#ff0000"/>
<rect x="14" y="372" width="1" height="1" fill="#ff0000"/>
<rect x="15" y="372" width="1" height="1" fill="#ff0000"/>
<rect x="19" y="372" width="1" height="1" fill="#ff0000"/>
<rect x="20" y="372" width="1" height="1" fill="#ff0000"/>
<rect x="21" y="372" width="1" height="1" fill="#ff0000"/>
<rect x="25" y="372" width="1" height="1" fill="#ff0000"/>
<rect x="26" y="372" width="1" height="1" fill="#ff0000"/>
<rect x="27" y="372" width="1" height="1" fill="#ff0000"/>
<rect x="31" y="371" width="1" height="1" fill="#ff0000"/>
<rect x="32" y="371" width="1" height="1" fill="#ff0000"/>
<rect x="33" y="371" width="1" height="1" fill="#ff0000"/>
<rect x="37" y="368" width="1" height="1" fill="#ff0000"/>
<rect x="38" y="367" width="1" height="1" fill="#ff0000"/>
<rect x="39" y="366" width="1" height="1" fill="#ff0000"/>
<rect x="43" y="363" width="1" height="1" fill="#ff0000"/>
<rect x="44" y="362" width="1" height="1" fill="#ff0000"/>
<rect x="45" y="361" width="1" height="1" fill="#ff0000"/>
<rect x="49" y="357" width="1" height="1" fill="#ff0000"/>
<rect x="50" y="356" width="1" height="1" fill="#ff0000"/>
<rect x="51" y="355" width="1" height="1" fill="#ff0000"/>
<rect x="55" y="351" width="1" height="1" fill="#ff0000"/>
<rect x="56" y="351" width="1" height="1" fill="#ff0000"/>
<rect x="57" y="350" width="1" height="1" fill="#ff0000"/>
<rect x="61" y="349" width="1" height="1" fill="#ff0000"/>
<rect x="62" y="350" width="1" height="1" fill="#ff0000"/>
<rect x="63" y="351" width="1" height="1" fill="#ff0000"/>
<rect x="66" y="355" width="1" height="1" fill="#ff0000"/>
<rect x="67" y="356" width="1" height="1" fill="#ff0000"/>
<rect x="68" y="357" width="1" height="1" fill="#ff0000"/>
<rect x="70" y="361" width="1" height="1" fill="#ff0000"/>
<rect x="71" y="362" width="1" height="1" fill="#ff0000"/>
<rect x="72" y="363" width="1" height="1" fill="#ff0000"/>
<rect x="74" y="367" width="1" height="1" fill="#ff0000"/>
<rect x="75" y="368" width="1" height="1" fill="#ff0000"/>
<rect x="75" y="369" width="1" height="1" fill="#ff0000"/>
<rect x="78" y="373" width="1" height="1" fill="#ff0000"/>
<rect x="79" y="374" width="1" height="1" fill="#ff0000"/>
<rect x="79" y="375" width="1" height="1" fill="#ff0000"/>
<rect x="83" y="379" width="1" height="1" fill="#ff0000"/>
<rect x="84" y="379" width="1" height="1" fill="#ff0000"/>
<rect x="85" y="380" width="1" height="1" fill="#ff0000"/>
<rect x="89" y="378" width="1" height="1" fill="#ff0000"/>
<rect x="90" y="377" width="1" height="1" fill="#ff0000"/>
<rect x="90" y="376" width="1" height="1" fill="#ff0000"/>
<rect x="93" y="372" width="1" height="1" fill="#ff0000"/>
<rect x="94" y="371" width="1" height="1" fill="#ff0000"/>
<rect x="94" y="370" width="1" height="1" fill="#ff0000"/>
<rect x="96" y="366" width="1" height="1" fill="#ff0000"/>
<rect x="97" y="365" width="1" height="1" fill="#ff0000"/>
<rect x="98" y="364" width="1" height="1" fill="#ff0000"/>
<rect x="101" y="360" width="1" height="1" fill="#ff0000"/>
<rect x="102" y="359" width="1" height="1" fill="#ff0000"/>
<rect x="103" y="358" width="1" height="1" fill="#ff0000"/>
<rect x="107" y="354" width="1" height="1" fill="#ff0000"/>
<rect x="107" y="353" width="1" height="1" fill="#ff0000"/>
<rect x="108" y="352" width="1" height="1" fill="#ff0000"/>
<rect x="112" y="348" width="1" height="1" fill="#ff0000"/>
<rect x="113" y="347" width="1" height="1" fill="#ff0000"/>
<rect x="114" y="346" width="1" height="1" fill="#ff0000"/>
<rect x="118" y="342" width="1" height="1" fill="#ff0000"/>
<rect x="119" y="342" width="1" height="1" fill="#ff0000"/>
<rect x="120" y="341" width="1" height="1" fill="#ff0000"/>
<rect x="124" y="339" width="1" height="1" fill="#ff0000"/>
<rect x="125" y="339" width="1" height="1" fill="#ff0000"/>
<rect x="126" y="339" width="1" height="1" fill="#ff0000"/>
<rect x="130" y="339" width="1" height="1" fill="#ff0000"/>
<rect x="131" y="339" width="1" height="1" fill="#ff0000"/>
<rect x="132" y="339" width="1" height="1" fill="#ff0000"/>
<rect x="136" y="340" width="1" height="1" fill="#ff0000"/>
<rect x="137" y="340" width="1" height="1" fill="#ff0000"/>
<rect x="138" y="340" width="1" height="1" fill="#ff0000"/>
<rect x="142" y="340" width="1" height="1" fill="#ff0000"/>
<rect x="143" y="340" width="1" height="1" fill="#ff0000"/>
<rect x="144" y="340" width="1" height="1" fill="#ff0000"/>
<rect x="148" y="339" width="1" height="1" fill="#ff0000"/>
<rect x="149" y="339" width="1" height="1" fill="#ff0000"/>
<rect x="150" y="338" width="1" height="1" fill="#ff0000"/>
<rect x="154" y="336" width="1" height="1" fill="#ff0000"/>
<rect x="155" y="335" width="1" height="1" fill="#ff0000"/>
<rect x="156" y="334" width="1" height="1" fill="#ff0000"/>
<rect x="160" y="330" width="1" height="1" fill="#ff0000"/>
<rect x="161" y="329" width="1" height="1" fill="#ff0000"/>
<rect x="162" y="328" width="1" height="1" fill="#ff0000"/>
<rect x="166" y="326" width="1" height="1" fill="#ff0000"/>
<rect x="167" y="325" width="1" height="1" fill="#ff0000"/>
<rect x="168" y="325" width="1" height="1" fill="#ff0000"/>
<rect x="172" y="326" width="1" height="1" fill="#ff0000"/>
<rect x="173" y="326" width="1" height="1" fill="#ff0000"/>
<rect x="174" y="327" width="1" height="1" fill="#ff0000"/>
<rect x="178" y="330" width="1" height="1" fill="#ff0000"/>
<rect x="179" y="331" width="1" height="1" fill="#ff0000"/>
<rect x="180" y="332" width="1" height="1" fill="#ff0000"/>
<rect x="183" y="336" width="1" height="1" fill="#ff0000"/>
<rect x="184" y="337" width="1" height="1" fill="#ff0000"/>
<rect x="185" y="338" width="1" height="1" fill="#ff0000"/>
<rect x="189" y="342" width="1" height="1" fill="#ff0000"/>
<rect x="190" y="343" width="1" height="1" fill="#ff0000"/>
<rect x="191" y="344" width="1" height="1" fill="#ff0000"/>
<rect x="195" y="348" width="1" height="1" fill="#ff0000"/>
<rect x="196" y="349" width="1" height="1" fill="#ff0000"/>
<rect x="197" y="350" width="1" height="1" fill="#ff0000"/>
<rect x="201" y="353" width="1" height="1" fill="#ff0000"/>
<rect x="202" y="354" width="1" height="1" fill="#ff0000"/>
<rect x="203" y="355" width="1" height="1" fill="#ff0000"/>
<rect x="207" y="357" width="1" height="1" fill="#ff0000"/>
<rect x="208" y="357" width="1" height="1" fill="#ff0000"/>
<rect x="209" y="357" width="1" height="1" fill="#ff0000"/>
<rect x="213" y="356" width="1" height="1" fill="#ff0000"/>
<rect x="214" y="355" width="1" height="1" fill="#ff0000"/>
<rect x="215" y="355" width="1" height="1" fill="#ff0000"/>
<rect x="219" y="353" width="1" height="1" fill="#ff0000"/>
<rect x="220" y="353" width="1" height="1" fill="#ff0000"/>
<rect x="221" y="353" width="1" height="1" fill="#ff0000"/>
<rect x="225" y="351" width="1" height="1" fill="#ff0000"/>
<rect x="226" y="350" width="1" height="1" fill="#ff0000"/>
<rect x="227" y="350" width="1" height="1" fill="#ff0000"/>
<rect x="231" y="348" width="1" height="1" fill="#ff0000"/>
<rect x="232" y="347" width="1" height="1" fill="#ff0000"/>
<rect x="233" y="347" width="1" height="1" fill="#ff0000"/>
<rect x="237" y="345" width="1" height="1" fill="#ff0000"/>
<rect x="238" y="345" width="1" height="1" fill="#ff0000"/>
<rect x="239" y="344" width="1" height="1" fill="#ff0000"/>
<rect x="243" y="344" width="1" height="1" fill="#ff0000"/>
<rect x="244" y="344" width="1" height="1" fill="#ff0000"/>
<rect x="245" y="344" width="1" height="1" fill="#ff0000"/>
<rect x="249" y="345" width="1" height="1" fill="#ff0000"/>
<rect x="250" y="345" width="1" height="1" fill="#ff0000"/>
<rect x="251" y="346" width="1" height="1" fill="#ff0000"/>
<rect x="255" y="347" width="1" height="1" fill="#ff0000"/>
<rect x="256" y="348" width="1" height="1" fill="#ff0000"/>
<rect x="257" y="348" width="1" height="1" fill="#ff0000"/>
<rect x="261" y="349" width="1" height="1" fill="#ff0000"/>
<rect x="262" y="349" width="1" height="1" fill="#ff0000"/>
<rect x="263" y="349" width="1" height="1" fill="#ff0000"/>
<rect x="267" y="348" width="1" height="1" fill="#ff0000"/>
<rect x="268" y="348" width="1" height="1" fill="#ff0000"/>
<rect x="269" y="348" width="1" height="1" fill="#ff0000"/>
<rect x="273" y="345" width="1" height="1" fill="#ff0000"/>
<rect x="274" y="344" width="1" height="1" fill="#ff0000"/>
<rect x="275" y="343" width="1" height="1" fill="#ff0000"/>
<rect x="279" y="339" width="1" height="1" fill="#ff0000"/>
<rect x="280" y="339" width="1" height="1" fill="#ff0000"/>
<rect x="281" y="338" width="1" height="1" fill="#ff0000"/>
<rect x="285" y="336" width="1" height="1" fill="#ff0000"/>
<rect x="286" y="336" width="1" height="1" fill="#ff0000"/>
<rect x="287" y="337" width="1" height="1" fill="#ff0000"/>
<rect x="291" y="339" width="1" height="1" fill="#ff0000"/>
<rect x="292" y="340" width="1" height="1" fill="#ff0000"/>
<rect x="293" y="341" width="1" height="1" fill="#ff0000"/>
<rect x="297" y="345" width="1" height="1" fill="#ff0000"/>
<rect x="298" y="346" width="1" height="1" fill="#ff0000"/>
<rect x="299" y="347" width="1" height="1" fill="#ff0000"/>
<rect x="302" y="351" width="1" height="1" fill="#ff0000"/>
<rect x="303" y="352" width="1" height="1" fill="#ff0000"/>
<rect x="303" y="353" width="1" height="1" fill="#ff0000"/>
<rect x="307" y="357" width="1" height="1" fill="#ff0000"/>
<rect x="307" y="358" width="1" height="1" fill="#ff0000"/>
<rect x="308" y="359" width="1" height="1" fill="#ff0000"/>
<rect x="311" y="363" width="1" height="1" fill="#ff0000"/>
<rect x="311" y="364" width="1" height="1" fill="#ff0000"/>
<rect x="312" y="365" width="1" height="1" fill="#ff0000"/>
<rect x="314" y="369" width="1" height="1" fill="#ff0000"/>
<rect x="315" y="370" width="1" height="1" fill="#ff0000"/>
<rect x="316" y="371" width="1" height="1" fill="#ff0000"/>
<rect x="318" y="375" width="1" height="1" fill="#ff0000"/>
<rect x="319" y="376" width="1" height="1" fill="#ff0000"/>
<rect x="320" y="377" width="1" height="1" fill="#ff0000"/>
<rect x="323" y="381" width="1" height="1" fill="#ff0000"/>
<rect x="324" y="382" width="1" height="1" fill="#ff0000"/>
<rect x="325" y="383" width="1" height="1" fill="#ff0000"/>
<rect x="329" y="385" width="1" height="1" fill="#ff0000"/>
<rect x="330" y="385" width="1" height="1" fill="#ff0000"/>
<rect x="331" y="384" width="1" height="1" fill="#ff0000"/>
<rect x="335" y="383" width="1" height="1" fill="#ff0000"/>
<rect x="336" y="382" width="1" height="1" fill="#ff0000"/>
<rect x="337" y="382" width="1" height="1" fill="#ff0000"/>
<rect x="341" y="379" width="1" height="1" fill="#ff0000"/>
<rect x="342" y="378" width="1" height="1" fill="#ff0000"/>
<rect x="343" y="377" width="1" height="1" fill="#ff0000"/>
<rect x="347" y="373" width="1" height="1" fill="#ff0000"/>
<rect x="348" y="372" width="1" height="1" fill="#ff0000"/>
<rect x="349" y="371" width="1" height="1" fill="#ff0000"/>
<rect x="352" y="367" width="1" height="1" fill="#ff0000"/>
<rect x="352" y="366" width="1" height="1" fill="#ff0000"/>
<rect x="353" y="365" width="1" height="1" fill="#ff0000"/>
<rect x="357" y="361" width="1" height="1" fill="#ff0000"/>
<rect x="358" y="360" width="1" height="1" fill="#ff0000"/>
<rect x="359" y="359" width="1" height="1" fill="#ff0000"/>
<rect x="363" y="355" width="1" height="1" fill="#ff0000"/>
<rect x="364" y="355" width="1" height="1" fill="#ff0000"/>
<rect x="365" y="354" width="1" height="1" fill="#ff0000"/>
<rect x="369" y="351" width="1" height="1" fill="#ff0000"/>
<rect x="370" y="350" width="1" height="1" fill="#ff0000"/>
<rect x="371" y="349" width="1" height="1" fill="#ff0000"/>
<rect x="375" y="347" width="1" height="1" fill="#ff0000"/>
<rect x="376" y="347" width="1" height="1" fill="#ff0000"/>
<rect x="377" y="347" width="1" height="1" fill="#ff0000"/>
<rect x="381" y="347" width="1" height="1" fill="#ff0000"/>
<rect x="382" y="347" width="1" height="1" fill="#ff0000"/>
<rect x="383" y="348" width="1" height="1" fill="#ff0000"/>
<rect x="387" y="349" width="1" height="1" fill="#ff0000"/>
<rect x="388" y="350" width="1" height="1" fill="#ff0000"/>
<rect x="389" y="350" width="1" height="1" fill="#ff0000"/>
<rect x="393" y="353" width="1" height="1" fill="#ff0000"/>
<rect x="394" y="354" width="1" height="1" fill="#ff0000"/>
<rect x="395" y="355" width="1" height="1" fill="#ff0000"/>
<rect x="399" y="359" width="1" height="1" fill="#ff0000"/>
<rect x="400" y="360" width="1" height="1" fill="#ff0000"/>
<rect x="401" y="361" width="1" height="1" fill="#ff0000"/>
<rect x="404" y="365" width="1" height="1" fill="#ff0000"/>
<rect x="405" y="366" width="1" height="1" fill="#ff0000"/>
<rect x="406" y="366" width="1" height="1" fill="#ff0000"/>
<rect x="410" y="367" width="1" height="1" fill="#ff0000"/>
<rect x="411" y="366" width="1" height="1" fill="#ff0000"/>
<rect x="412" y="366" width="1" height="1" fill="#ff0000"/>
<rect x="416" y="364" width="1" height="1" fill="#ff0000"/>
<rect x="417" y="363" width="1" height="1" fill="#ff0000"/>
<rect x="418" y="362" width="1" height="1" fill="#ff0000"/>
<rect x="422" y="359" width="1" height="1" fill="#ff0000"/>
<rect x="423" y="358" width="1" height="1" fill="#ff0000"/>
<rect x="424" y="357" width="1" height="1" fill="#ff0000"/>
<rect x="428" y="354" width="1" height="1" fill="#ff0000"/>
<rect x="429" y="353" width="1" height="1" fill="#ff0000"/>
<rect x="430" y="352" width="1" height="1" fill="#ff0000"/>
<rect x="433" y="348" width="1" height="1" fill="#ff0000"/>
<rect x="434" y="347" width="1" height="1" fill="#ff0000"/>
<rect x="435" y="346" width="1" height="1" fill="#ff0000"/>
<rect x="439" y="343" width="1" height="1" fill="#ff0000"/>
<rect x="440" y="342" width="1" height="1" fill="#ff0000"/>
<rect x="441" y="341" width="1" height="1" fill="#ff0000"/>
<rect x="445" y="339" width="1" height="1" fill="#ff0000"/>
<rect x="446" y="338" width="1" height="1" fill="#ff0000"/>
<rect x="447" y="337" width="1" height="1" fill="#ff0000"/>
<rect x="450" y="333" width="1" height="1" fill="#ff0000"/>
<rect x="451" y="332" width="1" height="1" fill="#ff0000"/>
<rect x="452" y="331" width="1" height="1" fill="#ff0000"/>
<rect x="455" y="327" width="1" height="1" fill="#ff0000"/>
<rect x="455" y="326" width="1" height="1" fill="#ff0000"/>
<rect x="456" y="325" width="1" height="1" fill="#ff0000"/>
<rect x="460" y="321" width="1" height="1" fill="#ff0000"/>
<rect x="461" y="320" width="1" height="1" fill="#ff0000"/>
<rect x="462" y="319" width="1" height="1" fill="#ff0000"/>
<rect x="466" y="318" width="1" height="1" fill="#ff0000"/>
<rect x="467" y="318" width="1" height="1" fill="#ff0000"/>
<rect x="468" y="318" width="1" height="1" fill="#ff0000"/>
<rect x="472" y="318" width="1" height="1" fill="#ff0000"/>
<rect x="473" y="318" width="1" height="1" fill="#ff0000"/>
<rect x="474" y="318" width="1" height="1" fill="#ff0000"/>
<rect x="478" y="319" width="1" height="1" fill="#ff0000"/>
<rect x="479" y="319" width="1" height="1" fill="#ff0000"/>
<rect x="480" y="319" width="1" height="1" fill="#ff0000"/>
<rect x="484" y="318" width="1" height="1" fill="#ff0000"/>
<rect x="485" y="318" width="1" height="1" fill="#ff0000"/>
<rect x="486" y="318" width="1" height="1" fill="#ff0000"/>
<rect x="490" y="317" width="1" height="1" fill="#ff0000"/>
<rect x="491" y="317" width="1" height="1" fill="#ff0000"/>
<rect x="492" y="317" width="1" height="1" fill="#ff0000"/>
<rect x="496" y="319" width="1" height="1" fill="#ff0000"/>
<rect x="497" y="319" width="1" height="1" fill="#ff0000"/>
<rect x="498" y="320" width="1" height="1" fill="#ff0000"/>
<rect x="502" y="322" width="1" height="1" fill="#ff0000"/>
<rect x="503" y="323" width="1" height="1" fill="#ff0000"/>
<rect x="504" y="324" width="1" height="1" fill="#ff0000"/>
<rect x="508" y="328" width="1" height="1" fill="#ff0000"/>
<rect x="509" y="329" width="1" height="1" fill="#ff0000"/>
<rect x="510" y="330" width="1" height="1" fill="#ff0000"/>
<rect x="514" y="333" width="1" height="1" fill="#ff0000"/>
<rect x="515" y="333" width="1" height="1" fill="#ff0000"/>
<rect x="516" y="334" width="1" height="1" fill="#ff0000"/>
<rect x="520" y="334" width="1" height="1" fill="#ff0000"/>
<rect x="521" y="334" width="1" height="1" fill="#ff0000"/>
<rect x="522" y="334" width="1" height="1" fill="#ff0000"/>
<rect x="526" y="335" width="1" height="1" fill="#ff0000"/>
<rect x="527" y="336" width="1" height="1" fill="#ff0000"/>
<rect x="528" y="336" width="1" height="1" fill="#ff0000"/>
<rect x="532" y="338" width="1" height="1" fill="#ff0000"/>
<rect x="533" y="339" width="1" height="1" fill="#ff0000"/>
<rect x="534" y="340" width="1" height="1" fill="#ff0000"/>
<rect x="538" y="343" width="1" height="1" fill="#ff0000"/>
<rect x="539" y="344" width="1" height="1" fill="#ff0000"/>
<rect x="540" y="345" width="1" height="1" fill="#ff0000"/>
<rect x="544" y="346" width="1" height="1" fill="#ff0000"/>
<rect x="545" y="346" width="1" height="1" fill="#ff0000"/>
<rect x="546" y="345" width="1" height="1" fill="#ff0000"/>
<rect x="550" y="343" width="1" height="1" fill="#ff0000"/>
<rect x="551" y="342" width="1" height="1" fill="#ff0000"/>
<rect x="552" y="341" width="1" height="1" fill="#ff0000"/>
<rect x="555" y="337" width="1" height="1" fill="#ff0000"/>
<rect x="556" y="336" width="1" height="1" fill="#ff0000"/>
<rect x="556" y="335" width="1" height="1" fill="#ff0000"/>
<rect x="559" y="331" width="1" height="1" fill="#ff0000"/>
<rect x="560" y="330" width="1" height="1" fill="#ff0000"/>
<rect x="561" y="329" width="1" height="1" fill="#ff0000"/>
<rect x="565" y="325" width="1" height="1" fill="#ff0000"/>
<rect x="566" y="324" width="1" height="1" fill="#ff0000"/>
<rect x="567" y="323" width="1" height="1" fill="#ff0000"/>
<rect x="571" y="320" width="1" height="1" fill="#ff0000"/>
<rect x="572" y="319" width="1" height="1" fill="#ff0000"/>
<rect x="573" y="319" width="1" height="1" fill="#ff0000"/>
<rect x="577" y="317" width="1" height="1" fill="#ff0000"/>
<rect x="578" y="317" width="1" height="1" fill="#ff0000"/>
<rect x="579" y="316" width="1" height="1" fill="#ff0000"/>
<rect x="583" y="316" width="1" height="1" fill="#ff0000"/>
<rect x="584" y="316" width="1" height="1" fill="#ff0000"/>
<rect x="585" y="316" width="1" height="1" fill="#ff0000"/>
<polyline points="1.0,447.2 5.0,438.2 9.0,426.0 13.0,435.5 17.0,441.0 21.0,451.8 25.0,454.1 29.0,450.0 33.0,433.7 37.0,428.3 41.0,416.6 45.0,409.4 49.0,406.7 53.0,413.0 57.0,425.6 61.0,445.5 65.0,463.5 69.0,471.6 73.0,477.0 77.0,473.4 81.0,447.2 85.0,422.0 89.0,404.9 93.0,403.6 97.0,406.2 101.0,406.2 105.0,407.6 109.0,407.3 113.0,408.0 117.0,409.8 121.0,417.5 125.0,428.3 129.0,441.8 133.0,450.0 137.0,447.2 141.0,440.0 145.0,429.2 149.0,419.3 153.0,412.0 157.0,409.4 161.0,404.9 165.0,407.3 169.0,411.2 173.0,425.6 177.0,441.8 181.0,456.3 185.0,466.2 189.0,459.9 193.0,459.0 197.0,450.9 201.0,444.5 205.0,434.6 209.0,430.1 213.0,422.9 217.0,414.8 221.0,410.9 225.0,414.8 229.0,412.7 233.0,407.6 237.0,406.2 241.0,427.4 245.0,438.2 249.0,443.6 253.0,441.8 257.0,439.1 261.0,446.4 265.0,432.8 269.0,428.3 273.0,416.6 277.0,409.1 281.0,409.1 285.0,414.8 289.0,434.6 293.0,461.7 297.0,471.6 301.0,471.6 305.0,471.6 309.0,470.7 313.0,473.4 317.0,464.4 321.0,459.9 325.0,450.0 329.0,446.4 333.0,423.8 337.0,416.6 341.0,415.7 345.0,421.7 349.0,417.5 353.0,412.1 357.0,413.0 361.0,418.4 365.0,419.3 369.0,413.0 373.0,412.7 377.0,412.1 381.0,423.8 385.0,431.0 389.0,435.5 393.0,438.2 397.0,448.2 401.0,460.8 405.0,456.3 409.0,434.6 413.0,411.2 417.0,403.1 421.0,403.6 425.0,404.9 429.0,414.8 433.0,427.4 437.0,436.4 441.0,425.6 445.0,408.5 449.0,404.0 453.0,403.1 457.0,402.2 461.0,407.6 465.0,413.0 469.0,428.3 473.0,430.7 477.0,427.4 481.0,414.8 485.0,408.5 489.0,408.0 493.0,413.0 497.0,431.0 501.0,446.4 505.0,444.5 509.0,439.7 513.0,441.5 517.0,432.8 521.0,417.5 525.0,422.0 529.0,439.1 533.0,452.7 537.0,459.0 541.0,465.3 545.0,447.2 549.0,422.0 553.0,402.2 557.0,400.8 561.0,402.2 565.0,406.7 569.0,407.6 573.0,407.6 577.0,405.8 581.0,411.2 585.0,411.6" fill="none" stroke="#0000cd" stroke-width="2" stroke-linejoin="round" shape-rendering="crispEdges"/>
<rect x="1" y="452" width="1" height="1" fill="#ff0000"/>
<rect x="1" y="451" width="1" height="1" fill="#ff0000"/>
<rect x="2" y="450" width="1" height="1" fill="#ff0000"/>
<rect x="4" y="446" width="1" height="1" fill="#ff0000"/>
<rect x="4" y="445" width="1" height="1" fill="#ff0000"/>
<rect x="5" y="444" width="1" height="1" fill="#ff0000"/>
<rect x="7" y="440" width="1" height="1" fill="#ff0000"/>
<rect x="8" y="439" width="1" height="1" fill="#ff0000"/>
<rect x="8" y="438" width="1" height="1" fill="#ff0000"/>
<rect x="11" y="434" width="1" height="1" fill="#ff0000"/>
<rect x="12" y="433" width="1" height="1" fill="#ff0000"/>
<rect x="13" y="432" width="1" height="1" fill="#ff0000"/>
<rect x="16" y="436" width="1" height="1" fill="#ff0000"/>
<rect x="17" y="437" width="1" height="1" fill="#ff0000"/>
<rect x="18" y="438" width="1" height="1" fill="#ff0000"/>
<rect x="20" y="442" width="1" height="1" fill="#ff0000"/>
<rect x="21" y="443" width="1" height="1" fill="#ff0000"/>
<rect x="22" y="444" width="1" height="1" fill="#ff0000"/>
<rect x="24" y="448" width="1" height="1" fill="#ff0000"/>
<rect x="24" y="449" width="1" height="1" fill="#ff0000"/>
<rect x="25" y="450" width="1" height="1" fill="#ff0000"/>
<rect x="29" y="452" width="1" height="1" fill="#ff0000"/>
<rect x="30" y="451" width="1" height="1" fill="#ff0000"/>
<rect x="30" y="450" width="1" height="1" fill="#ff0000"/>
<rect x="32" y="446" width="1" height="1" fill="#ff0000"/>
<rect x="33" y="445" width="1" height="1" fill="#ff0000"/>
<rect x="33" y="444" width="1" height="1" fill="#ff0000"/>
<rect x="34" y="440" width="1" height="1" fill="#ff0000"/>
<rect x="35" y="439" width="1" height="1" fill="#ff0000"/>
<rect x="35" y="438" width="1" height="1" fill="#ff0000"/>
<rect x="37" y="434" width="1" height="1" fill="#ff0000"/>
<rect x="37" y="433" width="1" height="1" fill="#ff0000"/>
<rect x="38" y="432" width="1" height="1" fill="#ff0000"/>
<rect x="40" y="428" width="1" height="1" fill="#ff0000"/>
<rect x="40" y="427" width="1" height="1" fill="#ff0000"/>
<rect x="41" y="426" width="1" height="1" fill="#ff0000"/>
<rect x="42" y="422" width="1" height="1" fill="#ff0000"/>
<rect x="43" y="421" width="1" height="1" fill="#ff0000"/>
<rect x="43" y="420" width="1" height="1" fill="#ff0000"/>
<rect x="45" y="416" width="1" height="1" fill="#ff0000"/>
<rect x="45" y="415" width="1" height="1" fill="#ff0000"/>
<rect x="46" y="414" width="1" height="1" fill="#ff0000"/>
<rect x="48" y="410" width="1" height="1" fill="#ff0000"/>
<rect x="48" y="409" width="1" height="1" fill="#ff0000"/>
<rect x="49" y="408" width="1" height="1" fill="#ff0000"/>
<rect x="53" y="409" width="1" height="1" fill="#ff0000"/>
<rect x="53" y="410" width="1" height="1" fill="#ff0000"/>
<rect x="54" y="411" width="1" height="1" fill="#ff0000"/>
<rect x="56" y="415" width="1" height="1" fill="#ff0000"/>
<rect x="56" y="416" width="1" height="1" fill="#ff0000"/>
<rect x="57" y="417" width="1" height="1" fill="#ff0000"/>
<rect x="58" y="421" width="1" height="1" fill="#ff0000"/>
<rect x="58" y="422" width="1" height="1" fill="#ff0000"/>
<rect x="58" y="423" width="1" height="1" fill="#ff0000"/>
<rect x="59" y="427" width="1" height="1" fill="#ff0000"/>
<rect x="59" y="428" width="1" height="1" fill="#ff0000"/>
<rect x="60" y="429" width="1" height="1" fill="#ff0000"/>
<rect x="61" y="433" width="1" height="1" fill="#ff0000"/>
<rect x="61" y="434" width="1" height="1" fill="#ff0000"/>
<rect x="61" y="435" width="1" height="1" fill="#ff0000"/>
<rect x="62" y="439" width="1" height="1" fill="#ff0000"/>
<rect x="62" y="440" width="1" height="1" fill="#ff0000"/>
<rect x="62" y="441" width="1" height="1" fill="#ff0000"/>
<rect x="63" y="445" width="1" height="1" fill="#ff0000"/>
<rect x="63" y="446" width="1" height="1" fill="#ff0000"/>
<rect x="64" y="447" width="1" height="1" fill="#ff0000"/>
<rect x="65" y="451" width="1" height="1" fill="#ff0000"/>
<rect x="65" y="452" width="1" height="1" fill="#ff0000"/>
<rect x="65" y="453" width="1" height="1" fill="#ff0000"/>
<rect x="66" y="457" width="1" height="1" fill="#ff0000"/>
<rect x="66" y="458" width="1" height="1" fill="#ff0000"/>
<rect x="67" y="459" width="1" height="1" fill="#ff0000"/>
<rect x="68" y="463" width="1" height="1" fill="#ff0000"/>
<rect x="68" y="464" width="1" height="1" fill="#ff0000"/>
<rect x="68" y="465" width="1" height="1" fill="#ff0000"/>
<rect x="70" y="469" width="1" height="1" fill="#ff0000"/>
<rect x="71" y="470" width="1" height="1" fill="#ff0000"/>
<rect x="72" y="471" width="1" height="1" fill="#ff0000"/>
<rect x="75" y="472" width="1" height="1" fill="#ff0000"/>
<rect x="76" y="472" width="1" height="1" fill="#ff0000"/>
<rect x="77" y="472" width="1" height="1" fill="#ff0000"/>
<rect x="79" y="468" width="1" height="1" fill="#ff0000"/>
<rect x="80" y="467" width="1" height="1" fill="#ff0000"/>
<rect x="80" y="466" width="1" height="1" fill="#ff0000"/>
<rect x="81" y="462" width="1" height="1" fill="#ff0000"/>
<rect x="82" y="461" width="1" height="1" fill="#ff0000"/>
<rect x="82" y="460" width="1" height="1" fill="#ff0000"/>
<rect x="82" y="456" width="1" height="1" fill="#ff0000"/>
<rect x="83" y="455" width="1" height="1" fill="#ff0000"/>
<rect x="83" y="454" width="1" height="1" fill="#ff0000"/>
<rect x="83" y="450" width="1" height="1" fill="#ff0000"/>
<rect x="84" y="449" width="1" height="1" fill="#ff0000"/>
<rect x="84" y="448" width="1" height="1" fill="#ff0000"/>
<rect x="84" y="444" width="1" height="1" fill="#ff0000"/>
<rect x="85" y="443" width="1" height="1" fill="#ff0000"/>
<rect x="85" y="442" width="1" height="1" fill="#ff0000"/>
<rect x="85" y="438" width="1" height="1" fill="#ff0000"/>
<rect x="86" y="437" width="1" height="1" fill="#ff0000"/>
<rect x="86" y="436" width="1" height="1" fill="#ff0000"/>
<rect x="87" y="432" width="1" height="1" fill="#ff0000"/>
<rect x="87" y="431" width="1" height="1" fill="#ff0000"/>
<rect x="87" y="430" width="1" height="1" fill="#ff0000"/>
<rect x="88" y="426" width="1" height="1" fill="#ff0000"/>
<rect x="88" y="425" width="1" height="1" fill="#ff0000"/>
<rect x="88" y="424" width="1" height="1" fill="#ff0000"/>
<rect x="89" y="420" width="1" height="1" fill="#ff0000"/>
<rect x="89" y="419" width="1" height="1" fill="#ff0000"/>
<rect x="90" y="418" width="1" height="1" fill="#ff0000"/>
<rect x="91" y="414" width="1" height="1" fill="#ff0000"/>
<rect x="91" y="413" width="1" height="1" fill="#ff0000"/>
<rect x="92" y="412" width="1" height="1" fill="#ff0000"/>
<rect x="93" y="408" width="1" height="1" fill="#ff0000"/>
<rect x="94" y="407" width="1" height="1" fill="#ff0000"/>
<rect x="95" y="406" width="1" height="1" fill="#ff0000"/>
<rect x="99" y="404" width="1" height="1" fill="#ff0000"/>
<rect x="100" y="404" width="1" height="1" fill="#ff0000"/>
<rect x="101" y="404" width="1" height="1" fill="#ff0000"/>
<rect x="105" y="406" width="1" height="1" fill="#ff0000"/>
<rect x="106" y="406" width="1" height="1" fill="#ff0000"/>
<rect x="107" y="407" width="1" height="1" fill="#ff0000"/>
<rect x="111" y="407" width="1" height="1" fill="#ff0000"/>
<rect x="112" y="407" width="1" height="1" fill="#ff0000"/>
<rect x="113" y="407" width="1" height="1" fill="#ff0000"/>
<rect x="117" y="408" width="1" height="1" fill="#ff0000"/>
<rect x="118" y="409" width="1" height="1" fill="#ff0000"/>
<rect x="119" y="410" width="1" height="1" fill="#ff0000"/>
<rect x="122" y="414" width="1" height="1" fill="#ff0000"/>
<rect x="123" y="415" width="1" height="1" fill="#ff0000"/>
<rect x="123" y="416" width="1" height="1" fill="#ff0000"/>
<rect x="125" y="420" width="1" height="1" fill="#ff0000"/>
<rect x="125" y="421" width="1" height="1" fill="#ff0000"/>
<rect x="126" y="422" width="1" height="1" fill="#ff0000"/>
<rect x="127" y="426" width="1" height="1" fill="#ff0000"/>
<rect x="127" y="427" width="1" height="1" fill="#ff0000"/>
<rect x="128" y="428" width="1" height="1" fill="#ff0000"/>
<rect x="129" y="432" width="1" height="1" fill="#ff0000"/>
<rect x="129" y="433" width="1" height="1" fill="#ff0000"/>
<rect x="130" y="434" width="1" height="1" fill="#ff0000"/>
<rect x="131" y="438" width="1" height="1" fill="#ff0000"/>
<rect x="132" y="439" width="1" height="1" fill="#ff0000"/>
<rect x="132" y="440" width="1" height="1" fill="#ff0000"/>
<rect x="134" y="444" width="1" height="1" fill="#ff0000"/>
<rect x="135" y="445" width="1" height="1" fill="#ff0000"/>
<rect x="136" y="446" width="1" height="1" fill="#ff0000"/>
<rect x="139" y="446" width="1" height="1" fill="#ff0000"/>
<rect x="139" y="445" width="1" height="1" fill="#ff0000"/>
<rect x="140" y="444" width="1" height="1" fill="#ff0000"/>
<rect x="143" y="440" width="1" height="1" fill="#ff0000"/>
<rect x="143" y="439" width="1" height="1" fill="#ff0000"/>
<rect x="144" y="438" width="1" height="1" fill="#ff0000"/>
<rect x="146" y="434" width="1" height="1" fill="#ff0000"/>
<rect x="146" y="433" width="1" height="1" fill="#ff0000"/>
<rect x="147" y="432" width="1" height="1" fill="#ff0000"/>
<rect x="149" y="428" width="1" height="1" fill="#ff0000"/>
<rect x="149" y="427" width="1" height="1" fill="#ff0000"/>
<rect x="149" y="426" width="1" height="1" fill="#ff0000"/>
<rect x="151" y="422" width="1" height="1" fill="#ff0000"/>
<rect x="152" y="421" width="1" height="1" fill="#ff0000"/>
<rect x="152" y="420" width="1" height="1" fill="#ff0000"/>
<rect x="154" y="416" width="1" height="1" fill="#ff0000"/>
<rect x="155" y="415" width="1" height="1" fill="#ff0000"/>
<rect x="156" y="414" width="1" height="1" fill="#ff0000"/>
<rect x="159" y="410" width="1" height="1" fill="#ff0000"/>
<rect x="159" y="409" width="1" height="1" fill="#ff0000"/>
<rect x="160" y="408" width="1" height="1" fill="#ff0000"/>
<rect x="164" y="406" width="1" height="1" fill="#ff0000"/>
<rect x="165" y="406" width="1" height="1" fill="#ff0000"/>
<rect x="166" y="407" width="1" height="1" fill="#ff0000"/>
<rect x="170" y="409" width="1" height="1" fill="#ff0000"/>
<rect x="170" y="410" width="1" height="1" fill="#ff0000"/>
<rect x="171" y="411" width="1" height="1" fill="#ff0000"/>
<rect x="173" y="415" width="1" height="1" fill="#ff0000"/>
<rect x="173" y="416" width="1" height="1" fill="#ff0000"/>
<rect x="173" y="417" width="1" height="1" fill="#ff0000"/>
<rect x="175" y="421" width="1" height="1" fill="#ff0000"/>
<rect x="175" y="422" width="1" height="1" fill="#ff0000"/>
<rect x="175" y="423" width="1" height="1" fill="#ff0000"/>
<rect x="176" y="427" width="1" height="1" fill="#ff0000"/>
<rect x="177" y="428" width="1" height="1" fill="#ff0000"/>
<rect x="177" y="429" width="1" height="1" fill="#ff0000"/>
<rect x="178" y="433" width="1" height="1" fill="#ff0000"/>
<rect x="178" y="434" width="1" height="1" fill="#ff0000"/>
<rect x="179" y="435" width="1" height="1" fill="#ff0000"/>
<rect x="180" y="439" width="1" height="1" fill="#ff0000"/>
<rect x="180" y="440" width="1" height="1" fill="#ff0000"/>
<rect x="180" y="441" width="1" height="1" fill="#ff0000"/>
<rect x="181" y="445" width="1" height="1" fill="#ff0000"/>
<rect x="181" y="446" width="1" height="1" fill="#ff0000"/>
<rect x="182" y="447" width="1" height="1" fill="#ff0000"/>
<rect x="183" y="451" width="1" height="1" fill="#ff0000"/>
<rect x="183" y="452" width="1" height="1" fill="#ff0000"/>
<rect x="183" y="453" width="1" height="1" fill="#ff0000"/>
<rect x="184" y="457" width="1" height="1" fill="#ff0000"/>
<rect x="185" y="458" width="1" height="1" fill="#ff0000"/>
<rect x="185" y="459" width="1" height="1" fill="#ff0000"/>
<rect x="188" y="463" width="1" height="1" fill="#ff0000"/>
<rect x="189" y="464" width="1" height="1" fill="#ff0000"/>
<rect x="190" y="463" width="1" height="1" fill="#ff0000"/>
<rect x="194" y="460" width="1" height="1" fill="#ff0000"/>
<rect x="195" y="459" width="1" height="1" fill="#ff0000"/>
<rect x="196" y="458" width="1" height="1" fill="#ff0000"/>
<rect x="199" y="454" width="1" height="1" fill="#ff0000"/>
<rect x="199" y="453" width="1" height="1" fill="#ff0000"/>
<rect x="200" y="452" width="1" height="1" fill="#ff0000"/>
<rect x="202" y="448" width="1" height="1" fill="#ff0000"/>
<rect x="203" y="447" width="1" height="1" fill="#ff0000"/>
<rect x="203" y="446" width="1" height="1" fill="#ff0000"/>
<rect x="205" y="442" width="1" height="1" fill="#ff0000"/>
<rect x="206" y="441" width="1" height="1" fill="#ff0000"/>
<rect x="206" y="440" width="1" height="1" fill="#ff0000"/>
<rect x="208" y="436" width="1" height="1" fill="#ff0000"/>
<rect x="209" y="435" width="1" height="1" fill="#ff0000"/>
<rect x="210" y="434" width="1" height="1" fill="#ff0000"/>
<rect x="212" y="430" width="1" height="1" fill="#ff0000"/>
<rect x="212" y="429" width="1" height="1" fill="#ff0000"/>
<rect x="213" y="428" width="1" height="1" fill="#ff0000"/>
<rect x="215" y="424" width="1" height="1" fill="#ff0000"/>
<rect x="216" y="423" width="1" height="1" fill="#ff0000"/>
<rect x="216" y="422" width="1" height="1" fill="#ff0000"/>
<rect x="219" y="418" width="1" height="1" fill="#ff0000"/>
<rect x="219" y="417" width="1" height="1" fill="#ff0000"/>
<rect x="220" y="416" width="1" height="1" fill="#ff0000"/>
<rect x="223" y="413" width="1" height="1" fill="#ff0000"/>
<rect x="224" y="413" width="1" height="1" fill="#ff0000"/>
<rect x="225" y="413" width="1" height="1" fill="#ff0000"/>
<rect x="229" y="413" width="1" height="1" fill="#ff0000"/>
<rect x="230" y="412" width="1" height="1" fill="#ff0000"/>
<rect x="231" y="411" width="1" height="1" fill="#ff0000"/>
<rect x="235" y="409" width="1" height="1" fill="#ff0000"/>
<rect x="236" y="408" width="1" height="1" fill="#ff0000"/>
<rect x="237" y="408" width="1" height="1" fill="#ff0000"/>
<rect x="240" y="412" width="1" height="1" fill="#ff0000"/>
<rect x="240" y="413" width="1" height="1" fill="#ff0000"/>
<rect x="241" y="414" width="1" height="1" fill="#ff0000"/>
<rect x="243" y="418" width="1" height="1" fill="#ff0000"/>
<rect x="243" y="419" width="1" height="1" fill="#ff0000"/>
<rect x="244" y="420" width="1" height="1" fill="#ff0000"/>
<rect x="245" y="424" width="1" height="1" fill="#ff0000"/>
<rect x="246" y="425" width="1" height="1" fill="#ff0000"/>
<rect x="246" y="426" width="1" height="1" fill="#ff0000"/>
<rect x="247" y="430" width="1" height="1" fill="#ff0000"/>
<rect x="248" y="431" width="1" height="1" fill="#ff0000"/>
<rect x="248" y="432" width="1" height="1" fill="#ff0000"/>
<rect x="250" y="436" width="1" height="1" fill="#ff0000"/>
<rect x="251" y="437" width="1" height="1" fill="#ff0000"/>
<rect x="251" y="438" width="1" height="1" fill="#ff0000"/>
<rect x="255" y="441" width="1" height="1" fill="#ff0000"/>
<rect x="256" y="441" width="1" height="1" fill="#ff0000"/>
<rect x="257" y="441" width="1" height="1" fill="#ff0000"/>
<rect x="261" y="442" width="1" height="1" fill="#ff0000"/>
<rect x="262" y="441" width="1" height="1" fill="#ff0000"/>
<rect x="263" y="440" width="1" height="1" fill="#ff0000"/>
<rect x="266" y="437" width="1" height="1" fill="#ff0000"/>
<rect x="267" y="436" width="1" height="1" fill="#ff0000"/>
<rect x="267" y="435" width="1" height="1" fill="#ff0000"/>
<rect x="269" y="431" width="1" height="1" fill="#ff0000"/>
<rect x="270" y="430" width="1" height="1" fill="#ff0000"/>
<rect x="270" y="429" width="1" height="1" fill="#ff0000"/>
<rect x="272" y="425" width="1" height="1" fill="#ff0000"/>
<rect x="273" y="424" width="1" height="1" fill="#ff0000"/>
<rect x="273" y="423" width="1" height="1" fill="#ff0000"/>
<rect x="275" y="419" width="1" height="1" fill="#ff0000"/>
<rect x="275" y="418" width="1" height="1" fill="#ff0000"/>
<rect x="276" y="417" width="1" height="1" fill="#ff0000"/>
<rect x="278" y="413" width="1" height="1" fill="#ff0000"/>
<rect x="279" y="412" width="1" height="1" fill="#ff0000"/>
<rect x="279" y="411" width="1" height="1" fill="#ff0000"/>
<rect x="283" y="410" width="1" height="1" fill="#ff0000"/>
<rect x="284" y="411" width="1" height="1" fill="#ff0000"/>
<rect x="285" y="411" width="1" height="1" fill="#ff0000"/>
<rect x="286" y="415" width="1" height="1" fill="#ff0000"/>
<rect x="287" y="416" width="1" height="1" fill="#ff0000"/>
<rect x="287" y="417" width="1" height="1" fill="#ff0000"/>
<rect x="289" y="421" width="1" height="1" fill="#ff0000"/>
<rect x="289" y="422" width="1" height="1" fill="#ff0000"/>
<rect x="289" y="423" width="1" height="1" fill="#ff0000"/>
<rect x="290" y="427" width="1" height="1" fill="#ff0000"/>
<rect x="290" y="428" width="1" height="1" fill="#ff0000"/>
<rect x="290" y="429" width="1" height="1" fill="#ff0000"/>
<rect x="291" y="433" width="1" height="1" fill="#ff0000"/>
<rect x="291" y="434" width="1" height="1" fill="#ff0000"/>
<rect x="292" y="435" width="1" height="1" fill="#ff0000"/>
<rect x="292" y="439" width="1" height="1" fill="#ff0000"/>
<rect x="293" y="440" width="1" height="1" fill="#ff0000"/>
<rect x="293" y="441" width="1" height="1" fill="#ff0000"/>
<rect x="294" y="445" width="1" height="1" fill="#ff0000"/>
<rect x="294" y="446" width="1" height="1" fill="#ff0000"/>
<rect x="294" y="447" width="1" height="1" fill="#ff0000"/>
<rect x="295" y="451" width="1" height="1" fill="#ff0000"/>
<rect x="296" y="452" width="1" height="1" fill="#ff0000"/>
<rect x="296" y="453" width="1" height="1" fill="#ff0000"/>
<rect x="297" y="457" width="1" height="1" fill="#ff0000"/>
<rect x="297" y="458" width="1" height="1" fill="#ff0000"/>
<rect x="297" y="459" width="1" height="1" fill="#ff0000"/>
<rect x="299" y="463" width="1" height="1" fill="#ff0000"/>
<rect x="299" y="464" width="1" height="1" fill="#ff0000"/>
<rect x="300" y="465" width="1" height="1" fill="#ff0000"/>
<rect x="302" y="469" width="1" height="1" fill="#ff0000"/>
<rect x="303" y="469" width="1" height="1" fill="#ff0000"/>
<rect x="304" y="470" width="1" height="1" fill="#ff0000"/>
<rect x="308" y="471" width="1" height="1" fill="#ff0000"/>
<rect x="309" y="471" width="1" height="1" fill="#ff0000"/>
<rect x="310" y="471" width="1" height="1" fill="#ff0000"/>
<rect x="314" y="471" width="1" height="1" fill="#ff0000"/>
<rect x="315" y="470" width="1" height="1" fill="#ff0000"/>
<rect x="316" y="469" width="1" height="1" fill="#ff0000"/>
<rect x="319" y="465" width="1" height="1" fill="#ff0000"/>
<rect x="320" y="464" width="1" height="1" fill="#ff0000"/>
<rect x="321" y="463" width="1" height="1" fill="#ff0000"/>
<rect x="323" y="459" width="1" height="1" fill="#ff0000"/>
<rect x="324" y="458" width="1" height="1" fill="#ff0000"/>
<rect x="324" y="457" width="1" height="1" fill="#ff0000"/>
<rect x="327" y="453" width="1" height="1" fill="#ff0000"/>
<rect x="327" y="452" width="1" height="1" fill="#ff0000"/>
<rect x="328" y="451" width="1" height="1" fill="#ff0000"/>
<rect x="330" y="447" width="1" height="1" fill="#ff0000"/>
<rect x="330" y="446" width="1" height="1" fill="#ff0000"/>
<rect x="330" y="445" width="1" height="1" fill="#ff0000"/>
<rect x="331" y="441" width="1" height="1" fill="#ff0000"/>
<rect x="332" y="440" width="1" height="1" fill="#ff0000"/>
<rect x="332" y="439" width="1" height="1" fill="#ff0000"/>
<rect x="333" y="435" width="1" height="1" fill="#ff0000"/>
<rect x="334" y="434" width="1" height="1" fill="#ff0000"/>
<rect x="334" y="433" width="1" height="1" fill="#ff0000"/>
<rect x="336" y="429" width="1" height="1" fill="#ff0000"/>
<rect x="336" y="428" width="1" height="1" fill="#ff0000"/>
<rect x="336" y="427" width="1" height="1" fill="#ff0000"/>
<rect x="338" y="423" width="1" height="1" fill="#ff0000"/>
<rect x="339" y="422" width="1" height="1" fill="#ff0000"/>
<rect x="339" y="421" width="1" height="1" fill="#ff0000"/>
<rect x="342" y="418" width="1" height="1" fill="#ff0000"/>
<rect x="343" y="417" width="1" height="1" fill="#ff0000"/>
<rect x="344" y="417" width="1" height="1" fill="#ff0000"/>
<rect x="348" y="417" width="1" height="1" fill="#ff0000"/>
<rect x="349" y="417" width="1" height="1" fill="#ff0000"/>
<rect x="350" y="416" width="1" height="1" fill="#ff0000"/>
<rect x="354" y="414" width="1" height="1" fill="#ff0000"/>
<rect x="355" y="413" width="1" height="1" fill="#ff0000"/>
<rect x="356" y="413" width="1" height="1" fill="#ff0000"/>
<rect x="360" y="414" width="1" height="1" fill="#ff0000"/>
<rect x="361" y="414" width="1" height="1" fill="#ff0000"/>
<rect x="362" y="415" width="1" height="1" fill="#ff0000"/>
<rect x="366" y="415" width="1" height="1" fill="#ff0000"/>
<rect x="367" y="415" width="1" height="1" fill="#ff0000"/>
<rect x="368" y="414" width="1" height="1" fill="#ff0000"/>
<rect x="372" y="413" width="1" height="1" fill="#ff0000"/>
<rect x="373" y="413" width="1" height="1" fill="#ff0000"/>
<rect x="374" y="413" width="1" height="1" fill="#ff0000"/>
<rect x="378" y="414" width="1" height="1" fill="#ff0000"/>
<rect x="379" y="415" width="1" height="1" fill="#ff0000"/>
<rect x="380" y="415" width="1" height="1" fill="#ff0000"/>
<rect x="382" y="419" width="1" height="1" fill="#ff0000"/>
<rect x="383" y="420" width="1" height="1" fill="#ff0000"/>
<rect x="383" y="421" width="1" height="1" fill="#ff0000"/>
<rect x="385" y="425" width="1" height="1" fill="#ff0000"/>
<rect x="386" y="426" width="1" height="1" fill="#ff0000"/>
<rect x="386" y="427" width="1" height="1" fill="#ff0000"/>
<rect x="388" y="431" width="1" height="1" fill="#ff0000"/>
<rect x="389" y="432" width="1" height="1" fill="#ff0000"/>
<rect x="390" y="433" width="1" height="1" fill="#ff0000"/>
<rect x="394" y="437" width="1" height="1" fill="#ff0000"/>
<rect x="395" y="438" width="1" height="1" fill="#ff0000"/>
<rect x="395" y="439" width="1" height="1" fill="#ff0000"/>
<rect x="398" y="443" width="1" height="1" fill="#ff0000"/>
<rect x="398" y="444" width="1" height="1" fill="#ff0000"/>
<rect x="399" y="445" width="1" height="1" fill="#ff0000"/>
<rect x="401" y="449" width="1" height="1" fill="#ff0000"/>
<rect x="401" y="450" width="1" height="1" fill="#ff0000"/>
<rect x="402" y="451" width="1" height="1" fill="#ff0000"/>
<rect x="404" y="455" width="1" height="1" fill="#ff0000"/>
<rect x="405" y="456" width="1" height="1" fill="#ff0000"/>
<rect x="406" y="455" width="1" height="1" fill="#ff0000"/>
<rect x="408" y="451" width="1" height="1" fill="#ff0000"/>
<rect x="408" y="450" width="1" height="1" fill="#ff0000"/>
<rect x="409" y="449" width="1" height="1" fill="#ff0000"/>
<rect x="410" y="445" width="1" height="1" fill="#ff0000"/>
<rect x="410" y="444" width="1" height="1" fill="#ff0000"/>
<rect x="410" y="443" width="1" height="1" fill="#ff0000"/>
<rect x="411" y="439" width="1" height="1" fill="#ff0000"/>
<rect x="411" y="438" width="1" height="1" fill="#ff0000"/>
<rect x="412" y="437" width="1" height="1" fill="#ff0000"/>
<rect x="413" y="433" width="1" height="1" fill="#ff0000"/>
<rect x="413" y="432" width="1" height="1" fill="#ff0000"/>
<rect x="413" y="431" width="1" height="1" fill="#ff0000"/>
<rect x="414" y="427" width="1" height="1" fill="#ff0000"/>
<rect x="414" y="426" width="1" height="1" fill="#ff0000"/>
<rect x="414" y="425" width="1" height="1" fill="#ff0000"/>
<rect x="415" y="421" width="1" height="1" fill="#ff0000"/>
<rect x="416" y="420" width="1" height="1" fill="#ff0000"/>
<rect x="416" y="419" width="1" height="1" fill="#ff0000"/>
<rect x="417" y="415" width="1" height="1" fill="#ff0000"/>
<rect x="417" y="414" width="1" height="1" fill="#ff0000"/>
<rect x="417" y="413" width="1" height="1" fill="#ff0000"/>
<rect x="419" y="409" width="1" height="1" fill="#ff0000"/>
<rect x="420" y="408" width="1" height="1" fill="#ff0000"/>
<rect x="420" y="407" width="1" height="1" fill="#ff0000"/>
<rect x="423" y="404" width="1" height="1" fill="#ff0000"/>
<rect x="424" y="403" width="1" height="1" fill="#ff0000"/>
<rect x="425" y="403" width="1" height="1" fill="#ff0000"/>
<rect x="428" y="407" width="1" height="1" fill="#ff0000"/>
<rect x="428" y="408" width="1" height="1" fill="#ff0000"/>
<rect x="429" y="409" width="1" height="1" fill="#ff0000"/>
<rect x="431" y="413" width="1" height="1" fill="#ff0000"/>
<rect x="431" y="414" width="1" height="1" fill="#ff0000"/>
<rect x="432" y="415" width="1" height="1" fill="#ff0000"/>
<rect x="433" y="419" width="1" height="1" fill="#ff0000"/>
<rect x="434" y="420" width="1" height="1" fill="#ff0000"/>
<rect x="434" y="421" width="1" height="1" fill="#ff0000"/>
<rect x="436" y="425" width="1" height="1" fill="#ff0000"/>
<rect x="436" y="426" width="1" height="1" fill="#ff0000"/>
<rect x="436" y="427" width="1" height="1" fill="#ff0000"/>
<rect x="439" y="430" width="1" height="1" fill="#ff0000"/>
<rect x="440" y="431" width="1" height="1" fill="#ff0000"/>
<rect x="441" y="431" width="1" height="1" fill="#ff0000"/>
<rect x="442" y="427" width="1" height="1" fill="#ff0000"/>
<rect x="443" y="426" width="1" height="1" fill="#ff0000"/>
<rect x="443" y="425" width="1" height="1" fill="#ff0000"/>
<rect x="445" y="421" width="1" height="1" fill="#ff0000"/>
<rect x="445" y="420" width="1" height="1" fill="#ff0000"/>
<rect x="445" y="419" width="1" height="1" fill="#ff0000"/>
<rect x="447" y="415" width="1" height="1" fill="#ff0000"/>
<rect x="447" y="414" width="1" height="1" fill="#ff0000"/>
<rect x="448" y="413" width="1" height="1" fill="#ff0000"/>
<rect x="450" y="409" width="1" height="1" fill="#ff0000"/>
<rect x="450" y="408" width="1" height="1" fill="#ff0000"/>
<rect x="451" y="407" width="1" height="1" fill="#ff0000"/>
<rect x="454" y="403" width="1" height="1" fill="#ff0000"/>
<rect x="455" y="403" width="1" height="1" fill="#ff0000"/>
<rect x="456" y="402" width="1" height="1" fill="#ff0000"/>
<rect x="460" y="404" width="1" height="1" fill="#ff0000"/>
<rect x="461" y="404" width="1" height="1" fill="#ff0000"/>
<rect x="462" y="405" width="1" height="1" fill="#ff0000"/>
<rect x="464" y="409" width="1" height="1" fill="#ff0000"/>
<rect x="464" y="410" width="1" height="1" fill="#ff0000"/>
<rect x="465" y="411" width="1" height="1" fill="#ff0000"/>
<rect x="467" y="415" width="1" height="1" fill="#ff0000"/>
<rect x="467" y="416" width="1" height="1" fill="#ff0000"/>
<rect x="468" y="417" width="1" height="1" fill="#ff0000"/>
<rect x="470" y="421" width="1" height="1" fill="#ff0000"/>
<rect x="470" y="422" width="1" height="1" fill="#ff0000"/>
<rect x="471" y="423" width="1" height="1" fill="#ff0000"/>
<rect x="473" y="427" width="1" height="1" fill="#ff0000"/>
<rect x="474" y="427" width="1" height="1" fill="#ff0000"/>
<rect x="475" y="427" width="1" height="1" fill="#ff0000"/>
<rect x="478" y="425" width="1" height="1" fill="#ff0000"/>
<rect x="479" y="424" width="1" height="1" fill="#ff0000"/>
<rect x="479" y="423" width="1" height="1" fill="#ff0000"/>
<rect x="482" y="419" width="1" height="1" fill="#ff0000"/>
<rect x="482" y="418" width="1" height="1" fill="#ff0000"/>
<rect x="483" y="417" width="1" height="1" fill="#ff0000"/>
<rect x="485" y="413" width="1" height="1" fill="#ff0000"/>
<rect x="486" y="412" width="1" height="1" fill="#ff0000"/>
<rect x="487" y="411" width="1" height="1" fill="#ff0000"/>
<rect x="490" y="409" width="1" height="1" fill="#ff0000"/>
<rect x="491" y="409" width="1" height="1" fill="#ff0000"/>
<rect x="492" y="410" width="1" height="1" fill="#ff0000"/>
<rect x="494" y="413" width="1" height="1" fill="#ff0000"/>
<rect x="495" y="414" width="1" height="1" fill="#ff0000"/>
<rect x="495" y="415" width="1" height="1" fill="#ff0000"/>
<rect x="497" y="419" width="1" height="1" fill="#ff0000"/>
<rect x="497" y="420" width="1" height="1" fill="#ff0000"/>
<rect x="497" y="421" width="1" height="1" fill="#ff0000"/>
<rect x="498" y="425" width="1" height="1" fill="#ff0000"/>
<rect x="499" y="426" width="1" height="1" fill="#ff0000"/>
<rect x="499" y="427" width="1" height="1" fill="#ff0000"/>
<rect x="500" y="431" width="1" height="1" fill="#ff0000"/>
<rect x="500" y="432" width="1" height="1" fill="#ff0000"/>
<rect x="500" y="433" width="1" height="1" fill="#ff0000"/>
<rect x="502" y="437" width="1" height="1" fill="#ff0000"/>
<rect x="502" y="438" width="1" height="1" fill="#ff0000"/>
<rect x="503" y="439" width="1" height="1" fill="#ff0000"/>
<rect x="505" y="443" width="1" height="1" fill="#ff0000"/>
<rect x="506" y="442" width="1" height="1" fill="#ff0000"/>
<rect x="507" y="442" width="1" height="1" fill="#ff0000"/>
<rect x="511" y="440" width="1" height="1" fill="#ff0000"/>
<rect x="512" y="440" width="1" height="1" fill="#ff0000"/>
<rect x="513" y="440" width="1" height="1" fill="#ff0000"/>
<rect x="517" y="436" width="1" height="1" fill="#ff0000"/>
<rect x="517" y="435" width="1" height="1" fill="#ff0000"/>
<rect x="518" y="434" width="1" height="1" fill="#ff0000"/>
<rect x="520" y="430" width="1" height="1" fill="#ff0000"/>
<rect x="520" y="429" width="1" height="1" fill="#ff0000"/>
<rect x="521" y="428" width="1" height="1" fill="#ff0000"/>
<rect x="523" y="424" width="1" height="1" fill="#ff0000"/>
<rect x="524" y="423" width="1" height="1" fill="#ff0000"/>
<rect x="525" y="422" width="1" height="1" fill="#ff0000"/>
<rect x="527" y="426" width="1" height="1" fill="#ff0000"/>
<rect x="528" y="427" width="1" height="1" fill="#ff0000"/>
<rect x="528" y="428" width="1" height="1" fill="#ff0000"/>
<rect x="531" y="432" width="1" height="1" fill="#ff0000"/>
<rect x="531" y="433" width="1" height="1" fill="#ff0000"/>
<rect x="532" y="434" width="1" height="1" fill="#ff0000"/>
<rect x="533" y="438" width="1" height="1" fill="#ff0000"/>
<rect x="534" y="439" width="1" height="1" fill="#ff0000"/>
<rect x="534" y="440" width="1" height="1" fill="#ff0000"/>
<rect x="535" y="444" width="1" height="1" fill="#ff0000"/>
<rect x="536" y="445" width="1" height="1" fill="#ff0000"/>
<rect x="536" y="446" width="1" height="1" fill="#ff0000"/>
<rect x="537" y="450" width="1" height="1" fill="#ff0000"/>
<rect x="538" y="451" width="1" height="1" fill="#ff0000"/>
<rect x="538" y="452" width="1" height="1" fill="#ff0000"/>
<rect x="540" y="456" width="1" height="1" fill="#ff0000"/>
<rect x="540" y="457" width="1" height="1" fill="#ff0000"/>
<rect x="541" y="458" width="1" height="1" fill="#ff0000"/>
<rect x="544" y="457" width="1" height="1" fill="#ff0000"/>
<rect x="545" y="456" width="1" height="1" fill="#ff0000"/>
<rect x="545" y="455" width="1" height="1" fill="#ff0000"/>
<rect x="546" y="451" width="1" height="1" fill="#ff0000"/>
<rect x="546" y="450" width="1" height="1" fill="#ff0000"/>
<rect x="547" y="449" width="1" height="1" fill="#ff0000"/>
<rect x="547" y="445" width="1" height="1" fill="#ff0000"/>
<rect x="548" y="444" width="1" height="1" fill="#ff0000"/>
<rect x="548" y="443" width="1" height="1" fill="#ff0000"/>
<rect x="549" y="439" width="1" height="1" fill="#ff0000"/>
<rect x="549" y="438" width="1" height="1" fill="#ff0000"/>
<rect x="549" y="437" width="1" height="1" fill="#ff0000"/>
<rect x="550" y="433" width="1" height="1" fill="#ff0000"/>
<rect x="550" y="432" width="1" height="1" fill="#ff0000"/>
<rect x="551" y="431" width="1" height="1" fill="#ff0000"/>
<rect x="551" y="427" width="1" height="1" fill="#ff0000"/>
<rect x="552" y="426" width="1" height="1" fill="#ff0000"/>
<rect x="552" y="425" width="1" height="1" fill="#ff0000"/>
<rect x="553" y="421" width="1" height="1" fill="#ff0000"/>
<rect x="553" y="420" width="1" height="1" fill="#ff0000"/>
<rect x="553" y="419" width="1" height="1" fill="#ff0000"/>
<rect x="554" y="415" width="1" height="1" fill="#ff0000"/>
<rect x="555" y="414" width="1" height="1" fill="#ff0000"/>
<rect x="555" y="413" width="1" height="1" fill="#ff0000"/>
<rect x="556" y="409" width="1" height="1" fill="#ff0000"/>
<rect x="556" y="408" width="1" height="1" fill="#ff0000"/>
<rect x="556" y="407" width="1" height="1" fill="#ff0000"/>
<rect x="559" y="403" width="1" height="1" fill="#ff0000"/>
<rect x="560" y="403" width="1" height="1" fill="#ff0000"/>
<rect x="561" y="402" width="1" height="1" fill="#ff0000"/>
<rect x="565" y="404" width="1" height="1" fill="#ff0000"/>
<rect x="566" y="404" width="1" height="1" fill="#ff0000"/>
<rect x="567" y="405" width="1" height="1" fill="#ff0000"/>
<rect x="571" y="406" width="1" height="1" fill="#ff0000"/>
<rect x="572" y="406" width="1" height="1" fill="#ff0000"/>
<rect x="573" y="406" width="1" height="1" fill="#ff0000"/>
<rect x="577" y="406" width="1" height="1" fill="#ff0000"/>
<rect x="578" y="406" width="1" height="1" fill="#ff0000"/>
<rect x="579" y="407" width="1" height="1" fill="#ff0000"/>
<rect x="583" y="408" width="1" height="1" fill="#ff0000"/>
<rect x="584" y="409" width="1" height="1" fill="#ff0000"/>
<rect x="585" y="409" width="1" height="1" fill="#ff0000"/>
<line x1="2" y1="414.5" x2="659" y2="414.5" stroke="#ff0000" stroke-width="1" stroke-dasharray="18 6"/>
<line x1="2" y1="464.5" x2="659" y2="464.5" stroke="#ff0000" stroke-width="1" stroke-dasharray="18 6"/>
<rect x="0" y="0" width="660" height="1" fill="#000"/>
<rect x="0" y="307" width="660" height="1" fill="#000"/>
<rect x="0" y="0" width="1" height="308" fill="#000"/>
<rect x="659" y="0" width="1" height="308" fill="#000"/>
<rect x="0" y="309" width="660" height="1" fill="#000"/>
<rect x="0" y="394" width="660" height="1" fill="#000"/>
<rect x="0" y="309" width="1" height="86" fill="#000"/>
<rect x="659" y="309" width="1" height="86" fill="#000"/>
<rect x="0" y="396" width="660" height="1" fill="#000"/>
<rect x="0" y="481" width="660" height="1" fill="#000"/>
<rect x="0" y="396" width="1" height="86" fill="#000"/>
<rect x="659" y="396" width="1" height="86" fill="#000"/>
<polygon points="586.5,1 596.5,1 591.5,6" fill="#b4b4b4"/>
<polygon points="1,475.5 1,481 6.5,481" fill="#b4b4b4"/>
<polygon points="3.5,6.5 11.5,6.5 7.5,11" fill="#000"/>
<rect x="660" y="7" width="2" height="1" fill="#000"/>
<text transform="translate(664,11) scale(0.9639175257731961,1)" font-family="Liberation Sans, sans-serif" font-size="9.7" fill="#000" stroke="#000" stroke-width="0.12">73.980</text>
<rect x="660" y="40" width="2" height="1" fill="#000"/>
<text transform="translate(664,44) scale(0.9639175257731961,1)" font-family="Liberation Sans, sans-serif" font-size="9.7" fill="#000" stroke="#000" stroke-width="0.12">72.610</text>
<rect x="660" y="73" width="2" height="1" fill="#000"/>
<text transform="translate(664,77) scale(0.9639175257731961,1)" font-family="Liberation Sans, sans-serif" font-size="9.7" fill="#000" stroke="#000" stroke-width="0.12">71.240</text>
<rect x="660" y="106" width="2" height="1" fill="#000"/>
<text transform="translate(664,110) scale(0.9639175257731961,1)" font-family="Liberation Sans, sans-serif" font-size="9.7" fill="#000" stroke="#000" stroke-width="0.12">69.860</text>
<rect x="660" y="139" width="2" height="1" fill="#000"/>
<text transform="translate(664,143) scale(0.9639175257731961,1)" font-family="Liberation Sans, sans-serif" font-size="9.7" fill="#000" stroke="#000" stroke-width="0.12">68.500</text>
<rect x="660" y="172" width="2" height="1" fill="#000"/>
<text transform="translate(664,176) scale(0.9639175257731961,1)" font-family="Liberation Sans, sans-serif" font-size="9.7" fill="#000" stroke="#000" stroke-width="0.12">67.130</text>
<rect x="660" y="205" width="2" height="1" fill="#000"/>
<text transform="translate(664,209) scale(0.9639175257731961,1)" font-family="Liberation Sans, sans-serif" font-size="9.7" fill="#000" stroke="#000" stroke-width="0.12">65.740</text>
<rect x="660" y="238" width="2" height="1" fill="#000"/>
<text transform="translate(664,242) scale(0.9639175257731961,1)" font-family="Liberation Sans, sans-serif" font-size="9.7" fill="#000" stroke="#000" stroke-width="0.12">64.370</text>
<rect x="660" y="271" width="2" height="1" fill="#000"/>
<text transform="translate(664,275) scale(0.9639175257731961,1)" font-family="Liberation Sans, sans-serif" font-size="9.7" fill="#000" stroke="#000" stroke-width="0.12">63.000</text>
<rect x="660" y="304" width="2" height="1" fill="#000"/>
<text transform="translate(664,308) scale(0.9639175257731961,1)" font-family="Liberation Sans, sans-serif" font-size="9.7" fill="#000" stroke="#000" stroke-width="0.12">61.660</text>
<rect x="661" y="62" width="36" height="11" fill="#000"/>
<text transform="translate(665,71) scale(0.9639175257731961,1)" font-family="Liberation Sans, sans-serif" font-size="9.7" fill="#fff" stroke="#fff" stroke-width="0.12">71.490</text>
<rect x="661" y="10" width="36" height="11" fill="#ff0000"/>
<text transform="translate(665,19) scale(0.9639175257731961,1)" font-family="Liberation Sans, sans-serif" font-size="9.7" fill="#fff" stroke="#fff" stroke-width="0.12">73.624</text>
<rect x="661" y="35" width="36" height="11" fill="#ff0000"/>
<text transform="translate(665,44) scale(0.9639175257731961,1)" font-family="Liberation Sans, sans-serif" font-size="9.7" fill="#fff" stroke="#fff" stroke-width="0.12">72.559</text>
<rect x="661" y="57" width="36" height="11" fill="#ff0000"/>
<text transform="translate(665,66) scale(0.9639175257731961,1)" font-family="Liberation Sans, sans-serif" font-size="9.7" fill="#fff" stroke="#fff" stroke-width="0.12">71.660</text>
<rect x="661" y="73" width="36" height="11" fill="#ff0000"/>
<text transform="translate(665,82) scale(0.9639175257731961,1)" font-family="Liberation Sans, sans-serif" font-size="9.7" fill="#fff" stroke="#fff" stroke-width="0.12">71.000</text>
<rect x="661" y="87" width="36" height="11" fill="#ff0000"/>
<text transform="translate(665,96) scale(0.9639175257731961,1)" font-family="Liberation Sans, sans-serif" font-size="9.7" fill="#fff" stroke="#fff" stroke-width="0.12">70.430</text>
<rect x="661" y="97" width="36" height="11" fill="#ff0000"/>
<text transform="translate(665,106) scale(0.9639175257731961,1)" font-family="Liberation Sans, sans-serif" font-size="9.7" fill="#fff" stroke="#fff" stroke-width="0.12">70.000</text>
<rect x="661" y="121" width="36" height="11" fill="#ff0000"/>
<text transform="translate(665,130) scale(0.9639175257731961,1)" font-family="Liberation Sans, sans-serif" font-size="9.7" fill="#fff" stroke="#fff" stroke-width="0.12">69.000</text>
<rect x="661" y="130" width="36" height="11" fill="#ff0000"/>
<text transform="translate(665,139) scale(0.9639175257731961,1)" font-family="Liberation Sans, sans-serif" font-size="9.7" fill="#fff" stroke="#fff" stroke-width="0.12">68.630</text>
<rect x="661" y="152" width="36" height="11" fill="#ff0000"/>
<text transform="translate(665,161) scale(0.9639175257731961,1)" font-family="Liberation Sans, sans-serif" font-size="9.7" fill="#fff" stroke="#fff" stroke-width="0.12">67.704</text>
<rect x="661" y="169" width="36" height="11" fill="#ff0000"/>
<text transform="translate(665,178) scale(0.9639175257731961,1)" font-family="Liberation Sans, sans-serif" font-size="9.7" fill="#fff" stroke="#fff" stroke-width="0.12">67.000</text>
<rect x="661" y="192" width="36" height="11" fill="#ff0000"/>
<text transform="translate(665,201) scale(0.9639175257731961,1)" font-family="Liberation Sans, sans-serif" font-size="9.7" fill="#fff" stroke="#fff" stroke-width="0.12">66.064</text>
<rect x="661" y="217" width="36" height="11" fill="#ff0000"/>
<text transform="translate(665,226) scale(0.9639175257731961,1)" font-family="Liberation Sans, sans-serif" font-size="9.7" fill="#fff" stroke="#fff" stroke-width="0.12">65.000</text>
<rect x="661" y="234" width="36" height="11" fill="#ff0000"/>
<text transform="translate(665,243) scale(0.9639175257731961,1)" font-family="Liberation Sans, sans-serif" font-size="9.7" fill="#fff" stroke="#fff" stroke-width="0.12">64.284</text>
<rect x="661" y="263" width="36" height="11" fill="#ff0000"/>
<text transform="translate(665,272) scale(0.9639175257731961,1)" font-family="Liberation Sans, sans-serif" font-size="9.7" fill="#fff" stroke="#fff" stroke-width="0.12">63.084</text>
<rect x="661" y="280" width="36" height="11" fill="#ff0000"/>
<text transform="translate(665,289) scale(0.9639175257731961,1)" font-family="Liberation Sans, sans-serif" font-size="9.7" fill="#fff" stroke="#fff" stroke-width="0.12">62.404</text>
<rect x="660" y="311" width="2" height="1" fill="#000"/>
<text transform="translate(664,321) scale(0.9639175257731961,1)" font-family="Liberation Sans, sans-serif" font-size="9.7" fill="#000" stroke="#000" stroke-width="0.12">1.3172</text>
<rect x="660" y="365" width="2" height="1" fill="#000"/>
<text transform="translate(664,369) scale(0.9639175257731961,1)" font-family="Liberation Sans, sans-serif" font-size="9.7" fill="#000" stroke="#000" stroke-width="0.12">0.00</text>
<rect x="660" y="393" width="2" height="1" fill="#000"/>
<text transform="translate(663,391) scale(0.9639175257731961,1)" font-family="Liberation Sans, sans-serif" font-size="9.7" fill="#000" stroke="#000" stroke-width="0.12">-0.6795</text>
<rect x="660" y="398" width="2" height="1" fill="#000"/>
<text transform="translate(664,407) scale(0.9639175257731961,1)" font-family="Liberation Sans, sans-serif" font-size="9.7" fill="#000" stroke="#000" stroke-width="0.12">100</text>
<rect x="660" y="480" width="2" height="1" fill="#000"/>
<text transform="translate(663,418) scale(0.9639175257731961,1)" font-family="Liberation Sans, sans-serif" font-size="9.7" fill="#000" stroke="#000" stroke-width="0.12">80</text>
<text transform="translate(663,468) scale(0.9639175257731961,1)" font-family="Liberation Sans, sans-serif" font-size="9.7" fill="#000" stroke="#000" stroke-width="0.12">20</text>
<text transform="translate(664,478) scale(0.9639175257731961,1)" font-family="Liberation Sans, sans-serif" font-size="9.7" fill="#000" stroke="#000" stroke-width="0.12">0</text>
<rect x="1" y="482" width="1" height="3" fill="#000"/>
<text transform="translate(0,494) scale(0.9639175257731961,1)" font-family="Liberation Sans, sans-serif" font-size="9.7" fill="#000" stroke="#000" stroke-width="0.12">5 Mar 2019</text>
<rect x="65" y="482" width="1" height="3" fill="#000"/>
<text transform="translate(64,494) scale(0.9639175257731961,1)" font-family="Liberation Sans, sans-serif" font-size="9.7" fill="#000" stroke="#000" stroke-width="0.12">8 Mar 03:00</text>
<rect x="129" y="482" width="1" height="3" fill="#000"/>
<text transform="translate(128,494) scale(0.9639175257731961,1)" font-family="Liberation Sans, sans-serif" font-size="9.7" fill="#000" stroke="#000" stroke-width="0.12">12 Mar 18:00</text>
<rect x="193" y="482" width="1" height="3" fill="#000"/>
<text transform="translate(192,494) scale(0.9639175257731961,1)" font-family="Liberation Sans, sans-serif" font-size="9.7" fill="#000" stroke="#000" stroke-width="0.12">15 Mar 11:00</text>
<rect x="257" y="482" width="1" height="3" fill="#000"/>
<text transform="translate(256,494) scale(0.9639175257731961,1)" font-family="Liberation Sans, sans-serif" font-size="9.7" fill="#000" stroke="#000" stroke-width="0.12">20 Mar 07:00</text>
<rect x="321" y="482" width="1" height="3" fill="#000"/>
<text transform="translate(320,494) scale(0.9639175257731961,1)" font-family="Liberation Sans, sans-serif" font-size="9.7" fill="#000" stroke="#000" stroke-width="0.12">25 Mar 03:00</text>
<rect x="385" y="482" width="1" height="3" fill="#000"/>
<text transform="translate(384,494) scale(0.9639175257731961,1)" font-family="Liberation Sans, sans-serif" font-size="9.7" fill="#000" stroke="#000" stroke-width="0.12">27 Mar 19:00</text>
<rect x="449" y="482" width="1" height="3" fill="#000"/>
<text transform="translate(448,494) scale(0.9639175257731961,1)" font-family="Liberation Sans, sans-serif" font-size="9.7" fill="#000" stroke="#000" stroke-width="0.12">1 Apr 15:00</text>
<rect x="513" y="482" width="1" height="3" fill="#000"/>
<text transform="translate(512,494) scale(0.9639175257731961,1)" font-family="Liberation Sans, sans-serif" font-size="9.7" fill="#000" stroke="#000" stroke-width="0.12">4 Apr 07:00</text>
<rect x="577" y="482" width="1" height="3" fill="#000"/>
<text transform="translate(576,494) scale(0.9639175257731961,1)" font-family="Liberation Sans, sans-serif" font-size="9.7" fill="#000" stroke="#000" stroke-width="0.12">8 Apr 23:00</text>
<text transform="translate(16,12) scale(0.9639175257731961,1)" font-family="Liberation Sans, sans-serif" font-size="9.7" fill="#000" stroke="#000" stroke-width="0.12">UKBrent,H4</text>
<text transform="translate(72,12) scale(0.9639175257731961,1)" font-family="Liberation Sans, sans-serif" font-size="9.7" fill="#000" stroke="#000" stroke-width="0.12">71.500</text>
<text transform="translate(103,12) scale(0.9639175257731961,1)" font-family="Liberation Sans, sans-serif" font-size="9.7" fill="#000" stroke="#000" stroke-width="0.12">71.520</text>
<text transform="translate(134,12) scale(0.9639175257731961,1)" font-family="Liberation Sans, sans-serif" font-size="9.7" fill="#000" stroke="#000" stroke-width="0.12">71.480</text>
<text transform="translate(165.5,12) scale(0.9639175257731961,1)" font-family="Liberation Sans, sans-serif" font-size="9.7" fill="#000" stroke="#000" stroke-width="0.12">71.490</text>
<g fill="none" stroke="#3b7d46" stroke-width="3.8" stroke-linecap="round" stroke-linejoin="miter">
<polyline points="651.3,60.8 631.3,60.8 640.5,40" stroke-linejoin="round"/>
<polyline points="631.3,43.6 640.5,39.5 645,47.8"/>
<polyline points="633.8,35.8 643.5,31.2 647.6,40.3"/>
</g>
<g fill="none" stroke="#a14b2a" stroke-width="3.8" stroke-linecap="round" stroke-linejoin="miter">
<polyline points="624.5,76.5 628.5,67 642,91.5"/>
<polyline points="632,88.5 642.5,92.5 645,82.5"/>
<polyline points="635.5,96.5 645.5,100 649,90"/>
</g>
<text transform="translate(612.4,80.1) scale(1.05,1)" font-family="Liberation Sans, sans-serif" font-size="17.5" fill="#a14b2a" stroke="#a14b2a" stroke-width="0.75" stroke-linejoin="round">?</text>
</svg>
</body></html>
